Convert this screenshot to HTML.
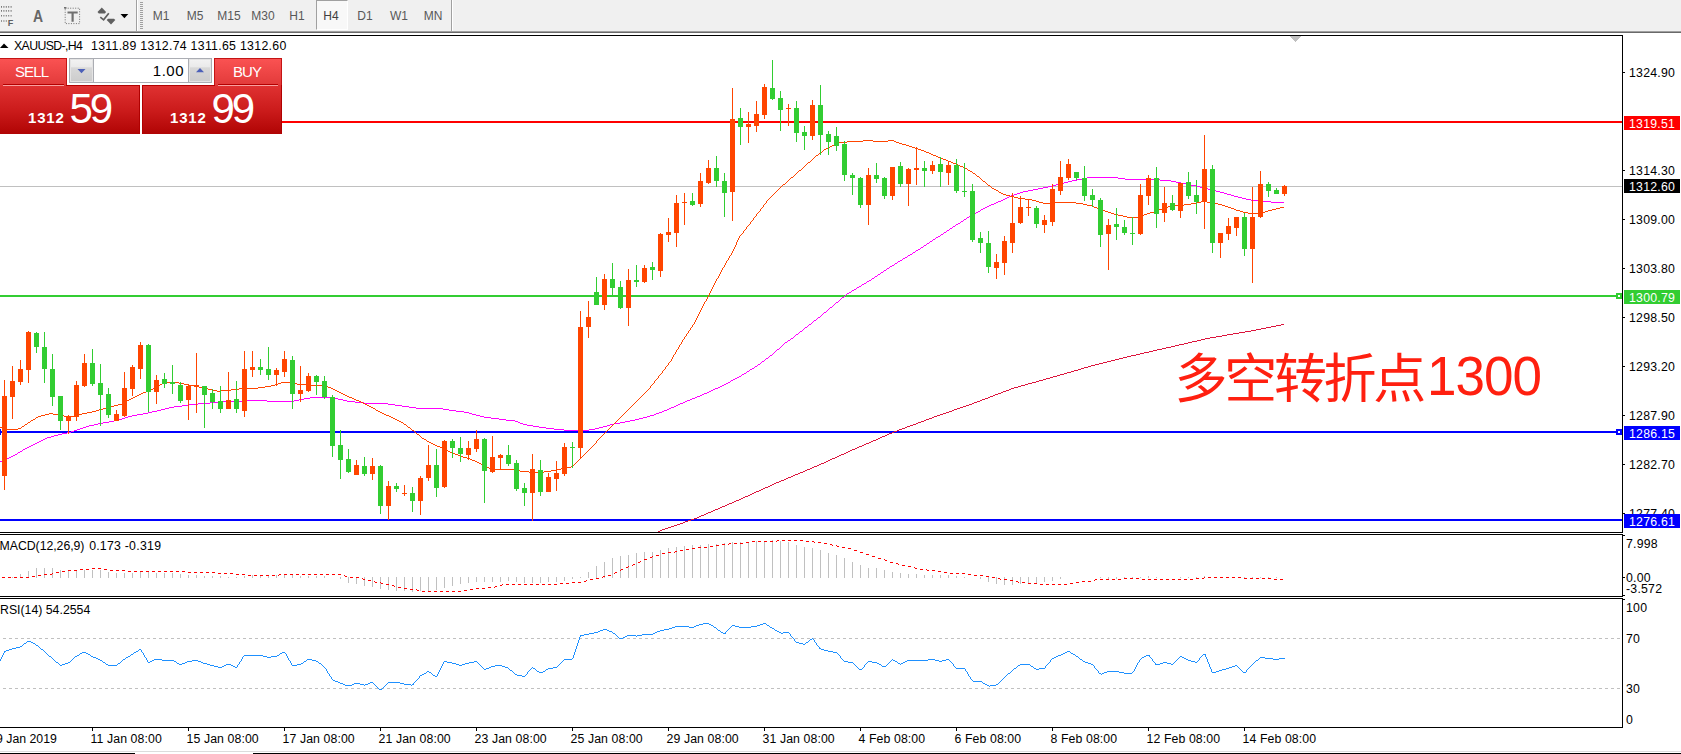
<!DOCTYPE html>
<html><head><meta charset="utf-8"><title>XAUUSD H4</title>
<style>
html,body{margin:0;padding:0;background:#fff;}
body{width:1681px;height:754px;overflow:hidden;position:relative;font-family:"Liberation Sans","Noto Sans CJK SC",sans-serif;}
.a{position:absolute;white-space:nowrap;}
.t{position:absolute;white-space:nowrap;font-size:12.3px;line-height:12px;color:#000;}
.tb{position:absolute;white-space:nowrap;font-size:12px;line-height:12px;color:#505050;text-align:center;width:34px;top:10px;}
.pl{letter-spacing:0.23px;position:absolute;left:1624px;width:56px;height:14px;color:#fff;font-size:12.3px;line-height:14px;white-space:nowrap;}
.pl span{position:absolute;left:5px;top:1.3px;}
.ax{position:absolute;left:1629px;letter-spacing:0.23px;font-size:12.3px;line-height:12px;white-space:nowrap;color:#000;}
</style></head><body>
<div class="a" style="left:0;top:0;width:1681px;height:31px;background:#F0F0F0;"></div>
<div class="a" style="left:0;top:31px;width:1681px;height:1px;background:#A0A0A0;"></div>
<div class="a" style="left:0;top:32px;width:1681px;height:1px;background:#696969;"></div>
<div class="a" style="left:136px;top:0;width:1px;height:31px;background:#A0A0A0"></div>
<div class="a" style="left:137px;top:0;width:1px;height:31px;background:#fff"></div>
<div class="a" style="left:140px;top:2px;width:3px;height:28px;background:repeating-linear-gradient(to bottom,#A0A0A0 0,#A0A0A0 1px,transparent 1px,transparent 2px)"></div>
<div class="a" style="left:451px;top:0;width:1px;height:31px;background:#A0A0A0"></div>
<div class="a" style="left:452px;top:0;width:1px;height:31px;background:#fff"></div>
<div class="a" style="left:316px;top:0px;width:32px;height:30px;background:#F8F8F8;border-left:1px solid #A0A0A0;border-top:1px solid #A0A0A0;border-right:1px solid #fff;border-bottom:1px solid #fff;box-sizing:border-box"></div>
<div class="tb" style="left:144px;color:#585858">M1</div>
<div class="tb" style="left:178px;color:#585858">M5</div>
<div class="tb" style="left:212px;color:#585858">M15</div>
<div class="tb" style="left:246px;color:#585858">M30</div>
<div class="tb" style="left:280px;color:#585858">H1</div>
<div class="tb" style="left:314px;color:#404040">H4</div>
<div class="tb" style="left:348px;color:#585858">D1</div>
<div class="tb" style="left:382px;color:#585858">W1</div>
<div class="tb" style="left:416px;color:#585858">MN</div>
<svg class="a" style="left:0;top:0" width="136" height="31" viewBox="0 0 136 31">
<g stroke="#787878" stroke-width="1.6" stroke-dasharray="1 1.4">
<line x1="1" y1="6.9" x2="12.5" y2="6.9"/><line x1="1" y1="10.9" x2="12.5" y2="10.9"/><line x1="1" y1="15.8" x2="12.5" y2="15.8"/><line x1="1" y1="21" x2="7" y2="21"/>
</g>
<g stroke="#707070" stroke-width="1" stroke-dasharray="1 1.5" fill="none">
<rect x="65.2" y="8.2" width="14.4" height="15.4"/>
</g>
<rect x="64" y="7" width="2.4" height="1.6" fill="#707070"/>
<text x="7.8" y="26.2" font-family="Liberation Sans,sans-serif" font-size="9" font-weight="bold" fill="#606060">F</text>
<text x="32.3" y="21.8" font-family="Liberation Sans,sans-serif" font-size="16.2" font-weight="bold" fill="#666" transform="translate(38 0) scale(0.86 1) translate(-38 0)">A</text>
<path d="M67.5 11.6 h10.2 v2 h-4 v8.2 h-2.2 v-8.2 h-4z" fill="#707070"/>
<g fill="#606060"><path d="M101.8 7.6 l4.3 4.4 l-1.3 1.4 h-6 l-1.3 -1.4z"/><path d="M111 24.4 l4.3 -4.4 l-1.3 -1.2 h-6 l-1.3 1.2z"/><path d="M100.3 17.2 l3.3 2.6 l5.2 -6.5" stroke="#606060" stroke-width="1.7" fill="none"/></g>
<path d="M120.5 14 h7.8 l-3.9 4.3z" fill="#000"/>
</svg>
<svg class="a" style="left:0;top:0" width="1681" height="754" viewBox="0 0 1681 754" shape-rendering="crispEdges">
<!-- frames -->
<rect x="0" y="35" width="1623" height="1" fill="#000"/>
<rect x="1622" y="35" width="1" height="498" fill="#000"/>
<rect x="0" y="532" width="1623" height="1" fill="#000"/>
<rect x="0" y="534" width="1623" height="1" fill="#000"/>
<rect x="1622" y="534" width="1" height="63" fill="#000"/>
<rect x="0" y="596" width="1623" height="1" fill="#000"/>
<rect x="0" y="598" width="1623" height="1" fill="#000"/>
<rect x="1622" y="598" width="1" height="130" fill="#000"/>
<rect x="0" y="727" width="1623" height="1" fill="#000"/>
<!-- h lines -->
<rect x="0" y="186" width="1622" height="1" fill="#C0C0C0"/>
<rect x="282" y="121" width="1340" height="2" fill="#FF0000"/>
<rect x="0" y="295" width="1622" height="2" fill="#32CD32"/>
<rect x="0" y="431" width="1622" height="2" fill="#0000FF"/>
<rect x="0" y="519" width="1622" height="2" fill="#0000FF"/>
<g><path d="M658 531h2v1h-2zM660 530h2v1h-2zM662 529h3v1h-3zM665 528h3v1h-3zM668 527h3v1h-3zM671 526h3v1h-3zM674 525h3v1h-3zM677 524h3v1h-3zM680 523h3v1h-3zM683 522h2v1h-2zM685 521h3v1h-3zM688 520h3v1h-3zM691 519h3v1h-3zM694 518h3v1h-3zM697 517h2v1h-2zM699 516h2v1h-2zM701 515h3v1h-3zM704 514h2v1h-2zM706 513h2v1h-2zM708 512h3v1h-3zM711 511h2v1h-2zM713 510h2v1h-2zM715 509h3v1h-3zM718 508h2v1h-2zM720 507h2v1h-2zM722 506h3v1h-3zM725 505h2v1h-2zM727 504h2v1h-2zM729 503h3v1h-3zM732 502h2v1h-2zM734 501h2v1h-2zM736 500h3v1h-3zM739 499h2v1h-2zM741 498h2v1h-2zM743 497h2v1h-2zM745 496h3v1h-3zM748 495h2v1h-2zM750 494h2v1h-2zM752 493h2v1h-2zM754 492h2v1h-2zM756 491h3v1h-3zM759 490h2v1h-2zM761 489h2v1h-2zM763 488h2v1h-2zM765 487h3v1h-3zM768 486h2v1h-2zM770 485h2v1h-2zM772 484h2v1h-2zM774 483h2v1h-2zM776 482h3v1h-3zM779 481h2v1h-2zM781 480h3v1h-3zM784 479h2v1h-2zM786 478h2v1h-2zM788 477h3v1h-3zM791 476h2v1h-2zM793 475h2v1h-2zM795 474h3v1h-3zM798 473h2v1h-2zM800 472h3v1h-3zM803 471h2v1h-2zM805 470h2v1h-2zM807 469h3v1h-3zM810 468h2v1h-2zM812 467h2v1h-2zM814 466h3v1h-3zM817 465h2v1h-2zM819 464h2v1h-2zM821 463h3v1h-3zM824 462h2v1h-2zM826 461h2v1h-2zM828 460h2v1h-2zM830 459h2v1h-2zM832 458h3v1h-3zM835 457h2v1h-2zM837 456h2v1h-2zM839 455h2v1h-2zM841 454h3v1h-3zM844 453h2v1h-2zM846 452h2v1h-2zM848 451h2v1h-2zM850 450h2v1h-2zM852 449h3v1h-3zM855 448h2v1h-2zM857 447h2v1h-2zM859 446h3v1h-3zM862 445h2v1h-2zM864 444h2v1h-2zM866 443h3v1h-3zM869 442h2v1h-2zM871 441h2v1h-2zM873 440h3v1h-3zM876 439h2v1h-2zM878 438h2v1h-2zM880 437h2v1h-2zM882 436h3v1h-3zM885 435h2v1h-2zM887 434h2v1h-2zM889 433h3v1h-3zM892 432h2v1h-2zM894 431h3v1h-3zM897 430h2v1h-2zM899 429h3v1h-3zM902 428h3v1h-3zM905 427h2v1h-2zM907 426h3v1h-3zM910 425h3v1h-3zM913 424h3v1h-3zM916 423h2v1h-2zM918 422h3v1h-3zM921 421h3v1h-3zM924 420h2v1h-2zM926 419h3v1h-3zM929 418h3v1h-3zM932 417h2v1h-2zM934 416h3v1h-3zM937 415h3v1h-3zM940 414h3v1h-3zM943 413h3v1h-3zM946 412h3v1h-3zM949 411h3v1h-3zM952 410h2v1h-2zM954 409h3v1h-3zM957 408h3v1h-3zM960 407h3v1h-3zM963 406h3v1h-3zM966 405h3v1h-3zM969 404h3v1h-3zM972 403h2v1h-2zM974 402h3v1h-3zM977 401h3v1h-3zM980 400h2v1h-2zM982 399h3v1h-3zM985 398h3v1h-3zM988 397h2v1h-2zM990 396h3v1h-3zM993 395h2v1h-2zM995 394h3v1h-3zM998 393h3v1h-3zM1001 392h2v1h-2zM1003 391h3v1h-3zM1006 390h3v1h-3zM1009 389h2v1h-2zM1011 388h3v1h-3zM1014 387h4v1h-4zM1018 386h3v1h-3zM1021 385h4v1h-4zM1025 384h3v1h-3zM1028 383h4v1h-4zM1032 382h4v1h-4zM1036 381h3v1h-3zM1039 380h4v1h-4zM1043 379h3v1h-3zM1046 378h4v1h-4zM1050 377h3v1h-3zM1053 376h4v1h-4zM1057 375h3v1h-3zM1060 374h4v1h-4zM1064 373h3v1h-3zM1067 372h4v1h-4zM1071 371h3v1h-3zM1074 370h4v1h-4zM1078 369h3v1h-3zM1081 368h3v1h-3zM1084 367h4v1h-4zM1088 366h3v1h-3zM1091 365h4v1h-4zM1095 364h4v1h-4zM1099 363h4v1h-4zM1103 362h4v1h-4zM1107 361h4v1h-4zM1111 360h4v1h-4zM1115 359h4v1h-4zM1119 358h4v1h-4zM1123 357h4v1h-4zM1127 356h4v1h-4zM1131 355h5v1h-5zM1136 354h4v1h-4zM1140 353h4v1h-4zM1144 352h5v1h-5zM1149 351h4v1h-4zM1153 350h4v1h-4zM1157 349h5v1h-5zM1162 348h4v1h-4zM1166 347h5v1h-5zM1171 346h4v1h-4zM1175 345h4v1h-4zM1179 344h5v1h-5zM1184 343h4v1h-4zM1188 342h4v1h-4zM1192 341h5v1h-5zM1197 340h4v1h-4zM1201 339h4v1h-4zM1205 338h5v1h-5zM1210 337h6v1h-6zM1216 336h6v1h-6zM1222 335h5v1h-5zM1227 334h6v1h-6zM1233 333h6v1h-6zM1239 332h6v1h-6zM1245 331h6v1h-6zM1251 330h5v1h-5zM1256 329h5v1h-5zM1261 328h5v1h-5zM1266 327h5v1h-5zM1271 326h5v1h-5zM1276 325h5v1h-5zM1281 324h3v1h-3z" fill="#DC143C"/><path d="M0 461h2v1h-2zM2 460h2v1h-2zM4 459h2v1h-2zM6 458h3v1h-3zM9 457h2v1h-2zM11 456h2v1h-2zM13 455h2v1h-2zM15 454h2v1h-2zM17 453h1v1h-1zM18 452h2v1h-2zM20 451h2v1h-2zM22 450h1v1h-1zM23 449h2v1h-2zM25 448h2v1h-2zM27 447h2v1h-2zM29 446h2v1h-2zM31 445h2v1h-2zM33 444h2v1h-2zM35 443h2v1h-2zM37 442h2v1h-2zM39 441h2v1h-2zM41 440h2v1h-2zM43 439h2v1h-2zM45 438h2v1h-2zM47 437h4v1h-4zM51 436h3v1h-3zM54 435h4v1h-4zM58 434h4v1h-4zM62 433h5v1h-5zM67 432h4v1h-4zM71 431h3v1h-3zM74 430h3v1h-3zM77 429h3v1h-3zM80 428h3v1h-3zM83 427h3v1h-3zM86 426h3v1h-3zM89 425h5v1h-5zM94 424h4v1h-4zM98 423h5v1h-5zM103 422h6v1h-6zM109 421h5v1h-5zM114 420h4v1h-4zM118 419h4v1h-4zM122 418h3v1h-3zM125 417h3v1h-3zM128 416h4v1h-4zM132 415h5v1h-5zM137 414h6v1h-6zM143 413h5v1h-5zM148 412h4v1h-4zM152 411h5v1h-5zM157 410h4v1h-4zM161 409h4v1h-4zM165 408h4v1h-4zM169 407h5v1h-5zM174 406h8v1h-8zM182 405h7v1h-7zM189 404h9v1h-9zM198 403h12v1h-12zM210 402h8v1h-8zM218 401h27v1h-27zM245 400h22v1h-22zM267 401h27v1h-27zM294 400h5v1h-5zM299 399h5v1h-5zM304 398h6v1h-6zM310 397h21v1h-21zM331 398h7v1h-7zM338 399h5v1h-5zM343 400h4v1h-4zM347 401h8v1h-8zM355 402h9v1h-9zM364 403h24v1h-24zM388 404h7v1h-7zM395 405h7v1h-7zM402 406h7v1h-7zM409 407h7v1h-7zM416 408h27v1h-27zM443 409h6v1h-6zM449 410h7v1h-7zM456 411h8v1h-8zM464 412h5v1h-5zM469 413h3v1h-3zM472 414h4v1h-4zM476 415h4v1h-4zM480 416h4v1h-4zM484 417h7v1h-7zM491 418h8v1h-8zM499 419h7v1h-7zM506 420h9v1h-9zM515 421h3v1h-3zM518 422h2v1h-2zM520 423h3v1h-3zM523 424h4v1h-4zM527 425h6v1h-6zM533 426h6v1h-6zM539 427h7v1h-7zM546 428h8v1h-8zM554 429h10v1h-10zM564 430h25v1h-25zM589 429h6v1h-6zM595 428h4v1h-4zM599 427h4v1h-4zM603 426h4v1h-4zM607 425h3v1h-3zM610 424h4v1h-4zM614 423h6v1h-6zM620 422h5v1h-5zM625 421h5v1h-5zM630 420h5v1h-5zM635 419h4v1h-4zM639 418h4v1h-4zM643 417h4v1h-4zM647 416h3v1h-3zM650 415h4v1h-4zM654 414h2v1h-2zM656 413h3v1h-3zM659 412h3v1h-3zM662 411h2v1h-2zM664 410h3v1h-3zM667 409h2v1h-2zM669 408h2v1h-2zM671 407h3v1h-3zM674 406h2v1h-2zM676 405h2v1h-2zM678 404h2v1h-2zM680 403h3v1h-3zM683 402h2v1h-2zM685 401h2v1h-2zM687 400h3v1h-3zM690 399h2v1h-2zM692 398h3v1h-3zM695 397h2v1h-2zM697 396h3v1h-3zM700 395h2v1h-2zM702 394h2v1h-2zM704 393h3v1h-3zM707 392h2v1h-2zM709 391h2v1h-2zM711 390h2v1h-2zM713 389h2v1h-2zM715 388h3v1h-3zM718 387h2v1h-2zM720 386h2v1h-2zM722 385h2v1h-2zM724 384h2v1h-2zM726 383h2v1h-2zM728 382h2v1h-2zM730 381h1v1h-1zM731 380h2v1h-2zM733 379h2v1h-2zM735 378h2v1h-2zM737 377h2v1h-2zM739 376h2v1h-2zM741 375h1v1h-1zM742 374h2v1h-2zM744 373h2v1h-2zM746 372h1v1h-1zM747 371h2v1h-2zM749 370h1v1h-1zM750 369h2v1h-2zM752 368h2v1h-2zM754 367h1v1h-1zM755 366h2v1h-2zM757 365h1v1h-1zM758 364h2v1h-2zM760 363h1v1h-1zM761 362h1v1h-1zM762 361h2v1h-2zM764 360h1v1h-1zM765 359h1v1h-1zM766 358h2v1h-2zM768 357h1v1h-1zM769 356h1v1h-1zM770 355h2v1h-2zM772 354h1v1h-1zM773 353h1v1h-1zM774 352h1v1h-1zM775 351h1v1h-1zM776 350h1v1h-1zM777 349h2v1h-2zM779 348h1v1h-1zM780 347h1v1h-1zM781 346h1v1h-1zM782 345h1v1h-1zM783 344h1v1h-1zM784 343h1v1h-1zM785 342h2v1h-2zM787 341h1v1h-1zM788 340h2v1h-2zM790 339h1v1h-1zM791 338h2v1h-2zM793 337h1v1h-1zM794 336h1v1h-1zM795 335h1v1h-1zM796 334h2v1h-2zM798 333h1v1h-1zM799 332h1v1h-1zM800 331h2v1h-2zM802 330h1v1h-1zM803 329h1v1h-1zM804 328h1v1h-1zM805 327h2v1h-2zM807 326h1v1h-1zM808 325h1v1h-1zM809 324h2v1h-2zM811 323h1v1h-1zM812 322h1v1h-1zM813 321h1v1h-1zM814 320h2v1h-2zM816 319h1v1h-1zM817 318h1v1h-1zM818 317h2v1h-2zM820 316h1v1h-1zM821 315h1v1h-1zM822 314h1v1h-1zM823 313h1v1h-1zM824 312h2v1h-2zM826 311h1v1h-1zM827 310h1v1h-1zM828 309h1v1h-1zM829 308h1v1h-1zM830 307h2v1h-2zM832 306h1v1h-1zM833 305h1v1h-1zM834 304h1v1h-1zM835 303h1v1h-1zM836 302h2v1h-2zM838 301h1v1h-1zM839 300h1v1h-1zM840 299h1v1h-1zM841 298h1v1h-1zM842 297h2v1h-2zM844 296h1v1h-1zM845 295h1v1h-1zM846 294h1v1h-1zM847 293h2v1h-2zM849 292h2v1h-2zM851 291h1v1h-1zM852 290h2v1h-2zM854 289h2v1h-2zM856 288h1v1h-1zM857 287h2v1h-2zM859 286h2v1h-2zM861 285h1v1h-1zM862 284h2v1h-2zM864 283h2v1h-2zM866 282h1v1h-1zM867 281h2v1h-2zM869 280h2v1h-2zM871 279h1v1h-1zM872 278h2v1h-2zM874 277h1v1h-1zM875 276h2v1h-2zM877 275h1v1h-1zM878 274h2v1h-2zM880 273h1v1h-1zM881 272h2v1h-2zM883 271h1v1h-1zM884 270h2v1h-2zM886 269h1v1h-1zM887 268h2v1h-2zM889 267h1v1h-1zM890 266h2v1h-2zM892 265h2v1h-2zM894 264h1v1h-1zM895 263h2v1h-2zM897 262h1v1h-1zM898 261h2v1h-2zM900 260h2v1h-2zM902 259h1v1h-1zM903 258h2v1h-2zM905 257h2v1h-2zM907 256h1v1h-1zM908 255h2v1h-2zM910 254h2v1h-2zM912 253h1v1h-1zM913 252h2v1h-2zM915 251h1v1h-1zM916 250h2v1h-2zM918 249h2v1h-2zM920 248h1v1h-1zM921 247h2v1h-2zM923 246h1v1h-1zM924 245h2v1h-2zM926 244h1v1h-1zM927 243h2v1h-2zM929 242h1v1h-1zM930 241h2v1h-2zM932 240h1v1h-1zM933 239h2v1h-2zM935 238h1v1h-1zM936 237h2v1h-2zM938 236h2v1h-2zM940 235h1v1h-1zM941 234h2v1h-2zM943 233h1v1h-1zM944 232h2v1h-2zM946 231h1v1h-1zM947 230h2v1h-2zM949 229h1v1h-1zM950 228h2v1h-2zM952 227h1v1h-1zM953 226h2v1h-2zM955 225h1v1h-1zM956 224h2v1h-2zM958 223h2v1h-2zM960 222h1v1h-1zM961 221h2v1h-2zM963 220h1v1h-1zM964 219h2v1h-2zM966 218h1v1h-1zM967 217h2v1h-2zM969 216h2v1h-2zM971 215h1v1h-1zM972 214h2v1h-2zM974 213h2v1h-2zM976 212h2v1h-2zM978 211h2v1h-2zM980 210h1v1h-1zM981 209h2v1h-2zM983 208h2v1h-2zM985 207h2v1h-2zM987 206h2v1h-2zM989 205h2v1h-2zM991 204h3v1h-3zM994 203h2v1h-2zM996 202h2v1h-2zM998 201h3v1h-3zM1001 200h2v1h-2zM1003 199h2v1h-2zM1005 198h2v1h-2zM1007 197h2v1h-2zM1009 196h2v1h-2zM1011 195h3v1h-3zM1014 194h3v1h-3zM1017 193h3v1h-3zM1020 192h3v1h-3zM1023 191h5v1h-5zM1028 190h5v1h-5zM1033 189h5v1h-5zM1038 188h5v1h-5zM1043 187h5v1h-5zM1048 186h4v1h-4zM1052 185h4v1h-4zM1056 184h4v1h-4zM1060 183h4v1h-4zM1064 182h4v1h-4zM1068 181h4v1h-4zM1072 180h5v1h-5zM1077 179h5v1h-5zM1082 178h5v1h-5zM1087 177h31v1h-31zM1118 178h7v1h-7zM1125 179h35v1h-35zM1160 180h11v1h-11zM1171 181h5v1h-5zM1176 182h5v1h-5zM1181 183h5v1h-5zM1186 184h5v1h-5zM1191 185h5v1h-5zM1196 186h4v1h-4zM1200 187h4v1h-4zM1204 188h4v1h-4zM1208 189h4v1h-4zM1212 190h4v1h-4zM1216 191h4v1h-4zM1220 192h4v1h-4zM1224 193h3v1h-3zM1227 194h4v1h-4zM1231 195h3v1h-3zM1234 196h4v1h-4zM1238 197h4v1h-4zM1242 198h4v1h-4zM1246 199h5v1h-5zM1251 200h11v1h-11zM1262 201h9v1h-9zM1271 202h13v1h-13z" fill="#FF00FF"/><path d="M0 427h2v1h-2zM2 428h4v1h-4zM6 429h12v1h-12zM18 428h3v1h-3zM21 427h1v1h-1zM22 426h2v1h-2zM24 425h1v1h-1zM25 424h2v1h-2zM27 423h1v1h-1zM28 422h2v1h-2zM30 421h1v1h-1zM31 420h2v1h-2zM33 419h2v1h-2zM35 418h1v1h-1zM36 417h2v1h-2zM38 416h3v1h-3zM41 415h4v1h-4zM45 414h4v1h-4zM49 413h4v1h-4zM53 414h5v1h-5zM58 415h6v1h-6zM64 416h10v1h-10zM74 415h4v1h-4zM78 414h4v1h-4zM82 413h5v1h-5zM87 412h5v1h-5zM92 411h4v1h-4zM96 410h3v1h-3zM99 409h4v1h-4zM103 408h3v1h-3zM106 407h4v1h-4zM110 406h4v1h-4zM114 405h4v1h-4zM118 404h4v1h-4zM122 403h2v1h-2zM124 402h2v1h-2zM126 401h1v1h-1zM127 400h2v1h-2zM129 399h2v1h-2zM131 398h2v1h-2zM133 397h2v1h-2zM135 396h2v1h-2zM137 395h2v1h-2zM139 394h2v1h-2zM141 393h2v1h-2zM143 392h3v1h-3zM146 391h2v1h-2zM148 390h2v1h-2zM150 389h3v1h-3zM153 388h2v1h-2zM155 387h2v1h-2zM157 386h2v1h-2zM159 385h1v1h-1zM160 384h2v1h-2zM162 383h2v1h-2zM164 382h15v1h-15zM179 383h5v1h-5zM184 384h5v1h-5zM189 385h5v1h-5zM194 386h5v1h-5zM199 387h4v1h-4zM203 388h5v1h-5zM208 389h5v1h-5zM213 390h4v1h-4zM217 391h4v1h-4zM221 390h10v1h-10zM231 389h8v1h-8zM239 388h19v1h-19zM258 387h7v1h-7zM265 386h6v1h-6zM271 385h4v1h-4zM275 384h3v1h-3zM278 383h3v1h-3zM281 382h12v1h-12zM293 383h4v1h-4zM297 384h9v1h-9zM306 385h20v1h-20zM326 386h2v1h-2zM328 387h3v1h-3zM331 388h2v1h-2zM333 389h2v1h-2zM335 390h2v1h-2zM337 391h2v1h-2zM339 392h2v1h-2zM341 393h2v1h-2zM343 394h2v1h-2zM345 395h2v1h-2zM347 396h2v1h-2zM349 397h3v1h-3zM352 398h2v1h-2zM354 399h2v1h-2zM356 400h3v1h-3zM359 401h2v1h-2zM361 402h2v1h-2zM363 403h2v1h-2zM365 404h2v1h-2zM367 405h2v1h-2zM369 406h2v1h-2zM371 407h2v1h-2zM373 408h2v1h-2zM375 409h1v1h-1zM376 410h2v1h-2zM378 411h2v1h-2zM380 412h2v1h-2zM382 413h2v1h-2zM384 414h2v1h-2zM386 415h3v1h-3zM389 416h2v1h-2zM391 417h2v1h-2zM393 418h2v1h-2zM395 419h2v1h-2zM397 420h2v1h-2zM399 421h2v1h-2zM401 422h2v1h-2zM403 423h1v1h-1zM404 424h2v1h-2zM406 425h1v1h-1zM407 426h1v1h-1zM408 427h2v1h-2zM410 428h1v1h-1zM411 429h1v1h-1zM412 430h2v1h-2zM414 431h1v1h-1zM415 432h1v1h-1zM416 433h1v1h-1zM417 434h2v1h-2zM419 435h1v1h-1zM420 436h1v1h-1zM421 437h1v1h-1zM422 438h2v1h-2zM424 439h2v1h-2zM426 440h1v1h-1zM427 441h2v1h-2zM429 442h2v1h-2zM431 443h2v1h-2zM433 444h2v1h-2zM435 445h2v1h-2zM437 446h3v1h-3zM440 447h2v1h-2zM442 448h2v1h-2zM444 449h2v1h-2zM446 450h2v1h-2zM448 451h2v1h-2zM450 452h3v1h-3zM453 453h2v1h-2zM455 454h3v1h-3zM458 455h2v1h-2zM460 456h3v1h-3zM463 457h4v1h-4zM467 458h3v1h-3zM470 459h2v1h-2zM472 460h3v1h-3zM475 461h2v1h-2zM477 462h2v1h-2zM479 463h2v1h-2zM481 464h2v1h-2zM483 465h1v1h-1zM484 466h2v1h-2zM486 467h3v1h-3zM489 468h6v1h-6zM495 469h21v1h-21zM516 470h4v1h-4zM520 471h9v1h-9zM529 472h15v1h-15zM544 471h7v1h-7zM551 470h5v1h-5zM556 469h5v1h-5zM561 468h4v1h-4zM565 467h6v1h-6zM571 466h2v1h-2zM573 465h1v1h-1zM574 464h1v1h-1zM575 463h1v1h-1zM576 462h1v1h-1zM577 461h1v1h-1zM578 460h1v1h-1zM579 459h1v1h-1zM580 458h1v1h-1zM581 457h1v1h-1zM582 456h1v1h-1zM583 455h1v1h-1zM584 454h1v1h-1zM585 453h1v1h-1zM586 452h1v1h-1zM587 451h1v1h-1zM588 450h1v1h-1zM589 449h1v1h-1zM590 448h1v1h-1zM591 447h1v1h-1zM592 446h1v1h-1zM593 445h1v1h-1zM594 444h1v1h-1zM595 443h1v1h-1zM596 441h1v2h-1zM597 440h1v1h-1zM598 439h1v1h-1zM599 438h1v1h-1zM600 437h1v1h-1zM601 436h1v1h-1zM602 435h1v1h-1zM603 434h1v1h-1zM604 433h1v1h-1zM605 432h1v1h-1zM606 431h1v1h-1zM607 430h1v1h-1zM608 429h1v1h-1zM609 428h1v1h-1zM610 427h1v1h-1zM611 426h1v1h-1zM612 425h1v1h-1zM613 424h1v1h-1zM614 423h1v1h-1zM615 422h1v1h-1zM616 421h1v1h-1zM617 420h1v1h-1zM618 419h1v1h-1zM619 418h1v1h-1zM620 417h1v1h-1zM621 416h1v1h-1zM622 415h1v1h-1zM623 414h1v1h-1zM624 413h1v1h-1zM625 412h1v1h-1zM626 411h1v1h-1zM627 410h1v1h-1zM628 409h1v1h-1zM629 408h1v1h-1zM630 407h1v1h-1zM631 406h1v1h-1zM632 405h1v1h-1zM633 404h1v1h-1zM634 403h1v1h-1zM635 402h1v1h-1zM636 401h1v1h-1zM637 400h1v1h-1zM638 399h1v1h-1zM639 398h1v1h-1zM640 397h1v1h-1zM641 396h1v1h-1zM642 395h1v1h-1zM643 394h1v1h-1zM644 393h1v1h-1zM645 392h1v1h-1zM646 391h1v1h-1zM647 390h1v1h-1zM648 389h1v1h-1zM649 388h1v1h-1zM650 386h1v2h-1zM651 385h1v1h-1zM652 384h1v1h-1zM653 383h1v1h-1zM654 381h1v2h-1zM655 380h1v1h-1zM656 379h1v1h-1zM657 378h1v1h-1zM658 376h1v2h-1zM659 375h1v1h-1zM660 374h1v1h-1zM661 373h1v1h-1zM662 371h1v2h-1zM663 370h1v1h-1zM664 369h1v1h-1zM665 367h1v2h-1zM666 366h1v1h-1zM667 365h1v1h-1zM668 363h1v2h-1zM669 362h1v1h-1zM670 361h1v1h-1zM671 359h1v2h-1zM672 357h1v2h-1zM673 355h1v2h-1zM674 354h1v1h-1zM675 352h1v2h-1zM676 350h1v2h-1zM677 349h1v1h-1zM678 347h1v2h-1zM679 345h1v2h-1zM680 344h1v1h-1zM681 342h1v2h-1zM682 340h1v2h-1zM683 339h1v1h-1zM684 337h1v2h-1zM685 336h1v1h-1zM686 334h1v2h-1zM687 333h1v1h-1zM688 331h1v2h-1zM689 330h1v1h-1zM690 328h1v2h-1zM691 327h1v1h-1zM692 325h1v2h-1zM693 324h1v1h-1zM694 322h1v2h-1zM695 320h1v2h-1zM696 318h1v2h-1zM697 316h1v2h-1zM698 314h1v2h-1zM699 312h1v2h-1zM700 310h1v2h-1zM701 308h1v2h-1zM702 306h1v2h-1zM703 304h1v2h-1zM704 302h1v2h-1zM705 301h1v1h-1zM706 299h1v2h-1zM707 297h1v2h-1zM708 295h1v2h-1zM709 293h1v2h-1zM710 291h1v2h-1zM711 289h1v2h-1zM712 287h1v2h-1zM713 285h1v2h-1zM714 283h1v2h-1zM715 281h1v2h-1zM716 279h1v2h-1zM717 278h1v1h-1zM718 276h1v2h-1zM719 274h1v2h-1zM720 272h1v2h-1zM721 270h1v2h-1zM722 268h1v2h-1zM723 267h1v1h-1zM724 265h1v2h-1zM725 263h1v2h-1zM726 261h1v2h-1zM727 260h1v1h-1zM728 258h1v2h-1zM729 256h1v2h-1zM730 255h1v1h-1zM731 253h1v2h-1zM732 251h1v2h-1zM733 249h1v2h-1zM734 247h1v2h-1zM735 245h1v2h-1zM736 242h1v3h-1zM737 240h1v2h-1zM738 238h1v2h-1zM739 236h1v2h-1zM740 235h1v1h-1zM741 234h1v1h-1zM742 233h1v1h-1zM743 231h1v2h-1zM744 230h1v1h-1zM745 229h1v1h-1zM746 227h1v2h-1zM747 226h1v1h-1zM748 225h1v1h-1zM749 224h1v1h-1zM750 222h1v2h-1zM751 221h1v1h-1zM752 220h1v1h-1zM753 218h1v2h-1zM754 217h1v1h-1zM755 216h1v1h-1zM756 214h1v2h-1zM757 213h1v1h-1zM758 212h1v1h-1zM759 211h1v1h-1zM760 209h1v2h-1zM761 208h1v1h-1zM762 207h1v1h-1zM763 205h1v2h-1zM764 204h1v1h-1zM765 203h1v1h-1zM766 201h1v2h-1zM767 200h1v1h-1zM768 199h1v1h-1zM769 198h1v1h-1zM770 197h1v1h-1zM771 196h1v1h-1zM772 195h1v1h-1zM773 194h1v1h-1zM774 193h1v1h-1zM775 192h1v1h-1zM776 191h1v1h-1zM777 190h1v1h-1zM778 189h1v1h-1zM779 188h1v1h-1zM780 187h1v1h-1zM781 186h1v1h-1zM782 185h1v1h-1zM783 184h2v1h-2zM785 183h1v1h-1zM786 182h1v1h-1zM787 181h1v1h-1zM788 180h1v1h-1zM789 179h1v1h-1zM790 178h1v1h-1zM791 177h2v1h-2zM793 176h1v1h-1zM794 175h1v1h-1zM795 174h1v1h-1zM796 173h1v1h-1zM797 172h1v1h-1zM798 171h1v1h-1zM799 170h2v1h-2zM801 169h1v1h-1zM802 168h1v1h-1zM803 167h1v1h-1zM804 166h1v1h-1zM805 165h1v1h-1zM806 164h1v1h-1zM807 163h1v1h-1zM808 162h2v1h-2zM810 161h1v1h-1zM811 160h1v1h-1zM812 159h1v1h-1zM813 158h1v1h-1zM814 157h1v1h-1zM815 156h1v1h-1zM816 155h2v1h-2zM818 154h1v1h-1zM819 153h1v1h-1zM820 152h2v1h-2zM822 151h1v1h-1zM823 150h1v1h-1zM824 149h2v1h-2zM826 148h2v1h-2zM828 147h2v1h-2zM830 146h2v1h-2zM832 145h2v1h-2zM834 144h2v1h-2zM836 143h2v1h-2zM838 142h9v1h-9zM847 141h16v1h-16zM863 140h10v1h-10zM873 141h15v1h-15zM888 140h6v1h-6zM894 141h2v1h-2zM896 142h3v1h-3zM899 143h3v1h-3zM902 144h4v1h-4zM906 145h3v1h-3zM909 146h3v1h-3zM912 147h3v1h-3zM915 148h3v1h-3zM918 149h3v1h-3zM921 150h3v1h-3zM924 151h2v1h-2zM926 152h3v1h-3zM929 153h2v1h-2zM931 154h2v1h-2zM933 155h3v1h-3zM936 156h2v1h-2zM938 157h3v1h-3zM941 158h2v1h-2zM943 159h3v1h-3zM946 160h2v1h-2zM948 161h3v1h-3zM951 162h2v1h-2zM953 163h3v1h-3zM956 164h2v1h-2zM958 165h2v1h-2zM960 166h3v1h-3zM963 167h2v1h-2zM965 168h2v1h-2zM967 169h1v1h-1zM968 170h2v1h-2zM970 171h2v1h-2zM972 172h1v1h-1zM973 173h2v1h-2zM975 174h1v1h-1zM976 175h1v1h-1zM977 176h2v1h-2zM979 177h1v1h-1zM980 178h1v1h-1zM981 179h1v1h-1zM982 180h1v1h-1zM983 181h2v1h-2zM985 182h1v1h-1zM986 183h1v1h-1zM987 184h1v1h-1zM988 185h2v1h-2zM990 186h1v1h-1zM991 187h1v1h-1zM992 188h2v1h-2zM994 189h2v1h-2zM996 190h2v1h-2zM998 191h1v1h-1zM999 192h2v1h-2zM1001 193h2v1h-2zM1003 194h3v1h-3zM1006 195h4v1h-4zM1010 196h4v1h-4zM1014 197h4v1h-4zM1018 198h7v1h-7zM1025 199h7v1h-7zM1032 200h4v1h-4zM1036 201h3v1h-3zM1039 202h4v1h-4zM1043 203h12v1h-12zM1055 202h21v1h-21zM1076 203h7v1h-7zM1083 204h4v1h-4zM1087 205h5v1h-5zM1092 206h2v1h-2zM1094 207h3v1h-3zM1097 208h2v1h-2zM1099 209h3v1h-3zM1102 210h3v1h-3zM1105 211h3v1h-3zM1108 212h3v1h-3zM1111 213h3v1h-3zM1114 214h4v1h-4zM1118 215h5v1h-5zM1123 216h4v1h-4zM1127 217h5v1h-5zM1132 218h1v1h-1zM1133 217h6v1h-6zM1139 216h2v1h-2zM1141 215h3v1h-3zM1144 214h3v1h-3zM1147 213h3v1h-3zM1150 212h4v1h-4zM1154 211h3v1h-3zM1157 210h2v1h-2zM1159 209h3v1h-3zM1162 208h3v1h-3zM1165 207h3v1h-3zM1168 206h4v1h-4zM1172 205h12v1h-12zM1184 204h7v1h-7zM1191 203h6v1h-6zM1197 202h4v1h-4zM1201 201h6v1h-6zM1207 202h6v1h-6zM1213 203h5v1h-5zM1218 204h4v1h-4zM1222 205h3v1h-3zM1225 206h3v1h-3zM1228 207h3v1h-3zM1231 208h3v1h-3zM1234 209h2v1h-2zM1236 210h4v1h-4zM1240 211h3v1h-3zM1243 212h5v1h-5zM1248 213h13v1h-13zM1261 212h4v1h-4zM1265 211h3v1h-3zM1268 210h4v1h-4zM1272 209h4v1h-4zM1276 208h4v1h-4zM1280 207h4v1h-4z" fill="#FF4500"/></g>
<g><rect x="4" y="380" width="1" height="110" fill="#FF4500"/><rect x="2" y="396" width="5" height="80" fill="#FF4500"/><rect x="12" y="366" width="1" height="53" fill="#FF4500"/><rect x="10" y="381" width="5" height="16" fill="#FF4500"/><rect x="20" y="360" width="1" height="25" fill="#FF4500"/><rect x="18" y="369" width="5" height="13" fill="#FF4500"/><rect x="28" y="331" width="1" height="52" fill="#FF4500"/><rect x="26" y="332" width="5" height="38" fill="#FF4500"/><rect x="36" y="332" width="1" height="21" fill="#32CD32"/><rect x="34" y="333" width="5" height="14" fill="#32CD32"/><rect x="44" y="332" width="1" height="51" fill="#32CD32"/><rect x="42" y="347" width="5" height="22" fill="#32CD32"/><rect x="52" y="354" width="1" height="52" fill="#32CD32"/><rect x="50" y="369" width="5" height="28" fill="#32CD32"/><rect x="60" y="396" width="1" height="34" fill="#32CD32"/><rect x="58" y="396" width="5" height="25" fill="#32CD32"/><rect x="68" y="415" width="1" height="19" fill="#FF4500"/><rect x="66" y="416" width="5" height="5" fill="#FF4500"/><rect x="76" y="381" width="1" height="40" fill="#FF4500"/><rect x="74" y="385" width="5" height="32" fill="#FF4500"/><rect x="84" y="354" width="1" height="33" fill="#FF4500"/><rect x="82" y="363" width="5" height="23" fill="#FF4500"/><rect x="92" y="349" width="1" height="37" fill="#32CD32"/><rect x="90" y="363" width="5" height="21" fill="#32CD32"/><rect x="100" y="364" width="1" height="62" fill="#32CD32"/><rect x="98" y="383" width="5" height="12" fill="#32CD32"/><rect x="108" y="388" width="1" height="30" fill="#32CD32"/><rect x="106" y="394" width="5" height="21" fill="#32CD32"/><rect x="116" y="410" width="1" height="11" fill="#FF4500"/><rect x="114" y="414" width="5" height="7" fill="#FF4500"/><rect x="124" y="372" width="1" height="45" fill="#FF4500"/><rect x="122" y="388" width="5" height="28" fill="#FF4500"/><rect x="132" y="365" width="1" height="31" fill="#FF4500"/><rect x="130" y="367" width="5" height="22" fill="#FF4500"/><rect x="140" y="342" width="1" height="37" fill="#FF4500"/><rect x="138" y="345" width="5" height="24" fill="#FF4500"/><rect x="148" y="344" width="1" height="68" fill="#32CD32"/><rect x="146" y="345" width="5" height="47" fill="#32CD32"/><rect x="156" y="375" width="1" height="29" fill="#FF4500"/><rect x="154" y="380" width="5" height="12" fill="#FF4500"/><rect x="164" y="373" width="1" height="15" fill="#32CD32"/><rect x="162" y="379" width="5" height="5" fill="#32CD32"/><rect x="172" y="365" width="1" height="29" fill="#32CD32"/><rect x="170" y="382" width="5" height="2" fill="#32CD32"/><rect x="180" y="382" width="1" height="21" fill="#32CD32"/><rect x="178" y="385" width="5" height="16" fill="#32CD32"/><rect x="188" y="385" width="1" height="35" fill="#FF4500"/><rect x="186" y="386" width="5" height="14" fill="#FF4500"/><rect x="196" y="353" width="1" height="60" fill="#FF4500"/><rect x="194" y="385" width="5" height="2" fill="#FF4500"/><rect x="204" y="386" width="1" height="42" fill="#32CD32"/><rect x="202" y="386" width="5" height="9" fill="#32CD32"/><rect x="212" y="389" width="1" height="20" fill="#32CD32"/><rect x="210" y="393" width="5" height="9" fill="#32CD32"/><rect x="220" y="386" width="1" height="27" fill="#32CD32"/><rect x="218" y="401" width="5" height="8" fill="#32CD32"/><rect x="228" y="372" width="1" height="37" fill="#FF4500"/><rect x="226" y="400" width="5" height="9" fill="#FF4500"/><rect x="236" y="381" width="1" height="32" fill="#32CD32"/><rect x="234" y="399" width="5" height="10" fill="#32CD32"/><rect x="244" y="351" width="1" height="66" fill="#FF4500"/><rect x="242" y="369" width="5" height="42" fill="#FF4500"/><rect x="252" y="351" width="1" height="26" fill="#FF4500"/><rect x="250" y="367" width="5" height="3" fill="#FF4500"/><rect x="260" y="359" width="1" height="16" fill="#32CD32"/><rect x="258" y="367" width="5" height="3" fill="#32CD32"/><rect x="268" y="347" width="1" height="33" fill="#32CD32"/><rect x="266" y="369" width="5" height="6" fill="#32CD32"/><rect x="276" y="368" width="1" height="18" fill="#FF4500"/><rect x="274" y="370" width="5" height="5" fill="#FF4500"/><rect x="284" y="351" width="1" height="26" fill="#FF4500"/><rect x="282" y="359" width="5" height="13" fill="#FF4500"/><rect x="292" y="356" width="1" height="53" fill="#32CD32"/><rect x="290" y="360" width="5" height="34" fill="#32CD32"/><rect x="300" y="366" width="1" height="36" fill="#FF4500"/><rect x="298" y="390" width="5" height="4" fill="#FF4500"/><rect x="308" y="373" width="1" height="19" fill="#FF4500"/><rect x="306" y="376" width="5" height="15" fill="#FF4500"/><rect x="316" y="375" width="1" height="20" fill="#32CD32"/><rect x="314" y="376" width="5" height="6" fill="#32CD32"/><rect x="324" y="376" width="1" height="23" fill="#32CD32"/><rect x="322" y="381" width="5" height="16" fill="#32CD32"/><rect x="332" y="395" width="1" height="62" fill="#32CD32"/><rect x="330" y="397" width="5" height="49" fill="#32CD32"/><rect x="340" y="430" width="1" height="49" fill="#32CD32"/><rect x="338" y="445" width="5" height="15" fill="#32CD32"/><rect x="348" y="449" width="1" height="24" fill="#32CD32"/><rect x="346" y="459" width="5" height="13" fill="#32CD32"/><rect x="356" y="460" width="1" height="15" fill="#FF4500"/><rect x="354" y="465" width="5" height="10" fill="#FF4500"/><rect x="364" y="457" width="1" height="19" fill="#32CD32"/><rect x="362" y="466" width="5" height="8" fill="#32CD32"/><rect x="372" y="458" width="1" height="22" fill="#FF4500"/><rect x="370" y="466" width="5" height="8" fill="#FF4500"/><rect x="380" y="465" width="1" height="49" fill="#32CD32"/><rect x="378" y="466" width="5" height="40" fill="#32CD32"/><rect x="388" y="481" width="1" height="39" fill="#FF4500"/><rect x="386" y="486" width="5" height="20" fill="#FF4500"/><rect x="396" y="483" width="1" height="9" fill="#32CD32"/><rect x="394" y="486" width="5" height="3" fill="#32CD32"/><rect x="404" y="485" width="1" height="11" fill="#FF4500"/><rect x="402" y="493" width="5" height="1" fill="#FF4500"/><rect x="412" y="487" width="1" height="25" fill="#32CD32"/><rect x="410" y="493" width="5" height="8" fill="#32CD32"/><rect x="420" y="476" width="1" height="39" fill="#FF4500"/><rect x="418" y="478" width="5" height="23" fill="#FF4500"/><rect x="428" y="445" width="1" height="36" fill="#FF4500"/><rect x="426" y="465" width="5" height="13" fill="#FF4500"/><rect x="436" y="449" width="1" height="48" fill="#32CD32"/><rect x="434" y="465" width="5" height="23" fill="#32CD32"/><rect x="444" y="440" width="1" height="48" fill="#FF4500"/><rect x="442" y="441" width="5" height="46" fill="#FF4500"/><rect x="452" y="439" width="1" height="19" fill="#32CD32"/><rect x="450" y="441" width="5" height="7" fill="#32CD32"/><rect x="460" y="437" width="1" height="25" fill="#32CD32"/><rect x="458" y="448" width="5" height="6" fill="#32CD32"/><rect x="468" y="441" width="1" height="19" fill="#FF4500"/><rect x="466" y="448" width="5" height="7" fill="#FF4500"/><rect x="476" y="430" width="1" height="22" fill="#FF4500"/><rect x="474" y="439" width="5" height="10" fill="#FF4500"/><rect x="484" y="438" width="1" height="65" fill="#32CD32"/><rect x="482" y="439" width="5" height="32" fill="#32CD32"/><rect x="492" y="436" width="1" height="37" fill="#FF4500"/><rect x="490" y="457" width="5" height="15" fill="#FF4500"/><rect x="500" y="454" width="1" height="15" fill="#FF4500"/><rect x="498" y="455" width="5" height="3" fill="#FF4500"/><rect x="508" y="445" width="1" height="21" fill="#32CD32"/><rect x="506" y="455" width="5" height="9" fill="#32CD32"/><rect x="516" y="460" width="1" height="31" fill="#32CD32"/><rect x="514" y="463" width="5" height="26" fill="#32CD32"/><rect x="524" y="483" width="1" height="23" fill="#32CD32"/><rect x="522" y="488" width="5" height="5" fill="#32CD32"/><rect x="532" y="454" width="1" height="67" fill="#FF4500"/><rect x="530" y="469" width="5" height="24" fill="#FF4500"/><rect x="540" y="460" width="1" height="36" fill="#32CD32"/><rect x="538" y="470" width="5" height="22" fill="#32CD32"/><rect x="548" y="473" width="1" height="19" fill="#FF4500"/><rect x="546" y="477" width="5" height="15" fill="#FF4500"/><rect x="556" y="461" width="1" height="30" fill="#FF4500"/><rect x="554" y="473" width="5" height="6" fill="#FF4500"/><rect x="564" y="443" width="1" height="33" fill="#FF4500"/><rect x="562" y="447" width="5" height="27" fill="#FF4500"/><rect x="572" y="442" width="1" height="26" fill="#32CD32"/><rect x="570" y="447" width="5" height="1" fill="#32CD32"/><rect x="580" y="311" width="1" height="147" fill="#FF4500"/><rect x="578" y="327" width="5" height="121" fill="#FF4500"/><rect x="588" y="301" width="1" height="37" fill="#FF4500"/><rect x="586" y="317" width="5" height="10" fill="#FF4500"/><rect x="596" y="277" width="1" height="28" fill="#32CD32"/><rect x="594" y="292" width="5" height="13" fill="#32CD32"/><rect x="604" y="274" width="1" height="36" fill="#FF4500"/><rect x="602" y="279" width="5" height="26" fill="#FF4500"/><rect x="612" y="263" width="1" height="32" fill="#32CD32"/><rect x="610" y="279" width="5" height="9" fill="#32CD32"/><rect x="620" y="281" width="1" height="28" fill="#32CD32"/><rect x="618" y="287" width="5" height="21" fill="#32CD32"/><rect x="628" y="269" width="1" height="57" fill="#FF4500"/><rect x="626" y="280" width="5" height="28" fill="#FF4500"/><rect x="636" y="265" width="1" height="22" fill="#32CD32"/><rect x="634" y="280" width="5" height="2" fill="#32CD32"/><rect x="644" y="265" width="1" height="18" fill="#FF4500"/><rect x="642" y="268" width="5" height="14" fill="#FF4500"/><rect x="652" y="262" width="1" height="18" fill="#32CD32"/><rect x="650" y="267" width="5" height="3" fill="#32CD32"/><rect x="660" y="233" width="1" height="44" fill="#FF4500"/><rect x="658" y="234" width="5" height="37" fill="#FF4500"/><rect x="668" y="218" width="1" height="24" fill="#FF4500"/><rect x="666" y="232" width="5" height="3" fill="#FF4500"/><rect x="676" y="195" width="1" height="52" fill="#FF4500"/><rect x="674" y="203" width="5" height="30" fill="#FF4500"/><rect x="684" y="193" width="1" height="32" fill="#FF4500"/><rect x="682" y="202" width="5" height="1" fill="#FF4500"/><rect x="692" y="193" width="1" height="13" fill="#32CD32"/><rect x="690" y="201" width="5" height="4" fill="#32CD32"/><rect x="700" y="173" width="1" height="34" fill="#FF4500"/><rect x="698" y="181" width="5" height="23" fill="#FF4500"/><rect x="708" y="160" width="1" height="24" fill="#FF4500"/><rect x="706" y="168" width="5" height="15" fill="#FF4500"/><rect x="716" y="156" width="1" height="31" fill="#32CD32"/><rect x="714" y="168" width="5" height="13" fill="#32CD32"/><rect x="724" y="173" width="1" height="44" fill="#32CD32"/><rect x="722" y="181" width="5" height="12" fill="#32CD32"/><rect x="732" y="88" width="1" height="133" fill="#FF4500"/><rect x="730" y="119" width="5" height="73" fill="#FF4500"/><rect x="740" y="108" width="1" height="37" fill="#32CD32"/><rect x="738" y="118" width="5" height="9" fill="#32CD32"/><rect x="748" y="112" width="1" height="31" fill="#FF4500"/><rect x="746" y="124" width="5" height="3" fill="#FF4500"/><rect x="756" y="101" width="1" height="31" fill="#FF4500"/><rect x="754" y="114" width="5" height="12" fill="#FF4500"/><rect x="764" y="84" width="1" height="35" fill="#FF4500"/><rect x="762" y="87" width="5" height="28" fill="#FF4500"/><rect x="772" y="60" width="1" height="40" fill="#32CD32"/><rect x="770" y="88" width="5" height="11" fill="#32CD32"/><rect x="780" y="91" width="1" height="40" fill="#32CD32"/><rect x="778" y="98" width="5" height="12" fill="#32CD32"/><rect x="788" y="104" width="1" height="22" fill="#FF4500"/><rect x="786" y="108" width="5" height="1" fill="#FF4500"/><rect x="796" y="101" width="1" height="41" fill="#32CD32"/><rect x="794" y="108" width="5" height="25" fill="#32CD32"/><rect x="804" y="126" width="1" height="24" fill="#32CD32"/><rect x="802" y="132" width="5" height="4" fill="#32CD32"/><rect x="812" y="100" width="1" height="40" fill="#FF4500"/><rect x="810" y="105" width="5" height="31" fill="#FF4500"/><rect x="820" y="85" width="1" height="70" fill="#32CD32"/><rect x="818" y="105" width="5" height="30" fill="#32CD32"/><rect x="828" y="131" width="1" height="24" fill="#32CD32"/><rect x="826" y="134" width="5" height="8" fill="#32CD32"/><rect x="836" y="127" width="1" height="24" fill="#32CD32"/><rect x="834" y="136" width="5" height="10" fill="#32CD32"/><rect x="844" y="141" width="1" height="40" fill="#32CD32"/><rect x="842" y="144" width="5" height="31" fill="#32CD32"/><rect x="852" y="173" width="1" height="22" fill="#32CD32"/><rect x="850" y="175" width="5" height="3" fill="#32CD32"/><rect x="860" y="177" width="1" height="31" fill="#32CD32"/><rect x="858" y="178" width="5" height="27" fill="#32CD32"/><rect x="868" y="168" width="1" height="57" fill="#FF4500"/><rect x="866" y="175" width="5" height="30" fill="#FF4500"/><rect x="876" y="163" width="1" height="20" fill="#32CD32"/><rect x="874" y="175" width="5" height="4" fill="#32CD32"/><rect x="884" y="177" width="1" height="22" fill="#32CD32"/><rect x="882" y="178" width="5" height="18" fill="#32CD32"/><rect x="892" y="167" width="1" height="33" fill="#FF4500"/><rect x="890" y="167" width="5" height="29" fill="#FF4500"/><rect x="900" y="162" width="1" height="25" fill="#32CD32"/><rect x="898" y="166" width="5" height="18" fill="#32CD32"/><rect x="908" y="168" width="1" height="38" fill="#FF4500"/><rect x="906" y="169" width="5" height="15" fill="#FF4500"/><rect x="916" y="147" width="1" height="38" fill="#FF4500"/><rect x="914" y="168" width="5" height="2" fill="#FF4500"/><rect x="924" y="161" width="1" height="26" fill="#32CD32"/><rect x="922" y="168" width="5" height="3" fill="#32CD32"/><rect x="932" y="161" width="1" height="13" fill="#FF4500"/><rect x="930" y="165" width="5" height="6" fill="#FF4500"/><rect x="940" y="157" width="1" height="30" fill="#32CD32"/><rect x="938" y="164" width="5" height="8" fill="#32CD32"/><rect x="948" y="162" width="1" height="23" fill="#FF4500"/><rect x="946" y="165" width="5" height="8" fill="#FF4500"/><rect x="956" y="159" width="1" height="34" fill="#32CD32"/><rect x="954" y="165" width="5" height="26" fill="#32CD32"/><rect x="964" y="163" width="1" height="34" fill="#32CD32"/><rect x="962" y="191" width="5" height="1" fill="#32CD32"/><rect x="972" y="184" width="1" height="58" fill="#32CD32"/><rect x="970" y="191" width="5" height="49" fill="#32CD32"/><rect x="980" y="232" width="1" height="21" fill="#32CD32"/><rect x="978" y="238" width="5" height="5" fill="#32CD32"/><rect x="988" y="231" width="1" height="42" fill="#32CD32"/><rect x="986" y="243" width="5" height="24" fill="#32CD32"/><rect x="996" y="254" width="1" height="25" fill="#FF4500"/><rect x="994" y="262" width="5" height="6" fill="#FF4500"/><rect x="1004" y="236" width="1" height="39" fill="#FF4500"/><rect x="1002" y="241" width="5" height="22" fill="#FF4500"/><rect x="1012" y="193" width="1" height="60" fill="#FF4500"/><rect x="1010" y="223" width="5" height="20" fill="#FF4500"/><rect x="1020" y="196" width="1" height="28" fill="#FF4500"/><rect x="1018" y="207" width="5" height="16" fill="#FF4500"/><rect x="1028" y="200" width="1" height="16" fill="#FF4500"/><rect x="1026" y="207" width="5" height="1" fill="#FF4500"/><rect x="1036" y="206" width="1" height="22" fill="#32CD32"/><rect x="1034" y="208" width="5" height="16" fill="#32CD32"/><rect x="1044" y="215" width="1" height="18" fill="#FF4500"/><rect x="1042" y="220" width="5" height="5" fill="#FF4500"/><rect x="1052" y="184" width="1" height="42" fill="#FF4500"/><rect x="1050" y="189" width="5" height="33" fill="#FF4500"/><rect x="1060" y="161" width="1" height="34" fill="#FF4500"/><rect x="1058" y="177" width="5" height="14" fill="#FF4500"/><rect x="1068" y="159" width="1" height="21" fill="#FF4500"/><rect x="1066" y="164" width="5" height="14" fill="#FF4500"/><rect x="1076" y="172" width="1" height="8" fill="#32CD32"/><rect x="1074" y="172" width="5" height="6" fill="#32CD32"/><rect x="1084" y="166" width="1" height="35" fill="#32CD32"/><rect x="1082" y="178" width="5" height="18" fill="#32CD32"/><rect x="1092" y="189" width="1" height="18" fill="#32CD32"/><rect x="1090" y="195" width="5" height="5" fill="#32CD32"/><rect x="1100" y="198" width="1" height="49" fill="#32CD32"/><rect x="1098" y="200" width="5" height="35" fill="#32CD32"/><rect x="1108" y="219" width="1" height="51" fill="#FF4500"/><rect x="1106" y="225" width="5" height="9" fill="#FF4500"/><rect x="1116" y="208" width="1" height="32" fill="#32CD32"/><rect x="1114" y="224" width="5" height="3" fill="#32CD32"/><rect x="1124" y="220" width="1" height="15" fill="#32CD32"/><rect x="1122" y="227" width="5" height="6" fill="#32CD32"/><rect x="1132" y="217" width="1" height="28" fill="#32CD32"/><rect x="1130" y="233" width="5" height="1" fill="#32CD32"/><rect x="1140" y="184" width="1" height="51" fill="#FF4500"/><rect x="1138" y="195" width="5" height="39" fill="#FF4500"/><rect x="1148" y="175" width="1" height="30" fill="#FF4500"/><rect x="1146" y="178" width="5" height="18" fill="#FF4500"/><rect x="1156" y="167" width="1" height="61" fill="#32CD32"/><rect x="1154" y="178" width="5" height="36" fill="#32CD32"/><rect x="1164" y="187" width="1" height="35" fill="#FF4500"/><rect x="1162" y="203" width="5" height="10" fill="#FF4500"/><rect x="1172" y="195" width="1" height="16" fill="#32CD32"/><rect x="1170" y="203" width="5" height="7" fill="#32CD32"/><rect x="1180" y="183" width="1" height="35" fill="#FF4500"/><rect x="1178" y="183" width="5" height="28" fill="#FF4500"/><rect x="1188" y="172" width="1" height="27" fill="#32CD32"/><rect x="1186" y="182" width="5" height="14" fill="#32CD32"/><rect x="1196" y="180" width="1" height="34" fill="#32CD32"/><rect x="1194" y="195" width="5" height="7" fill="#32CD32"/><rect x="1204" y="135" width="1" height="94" fill="#FF4500"/><rect x="1202" y="169" width="5" height="32" fill="#FF4500"/><rect x="1212" y="165" width="1" height="88" fill="#32CD32"/><rect x="1210" y="169" width="5" height="74" fill="#32CD32"/><rect x="1220" y="233" width="1" height="25" fill="#FF4500"/><rect x="1218" y="233" width="5" height="10" fill="#FF4500"/><rect x="1228" y="218" width="1" height="22" fill="#FF4500"/><rect x="1226" y="226" width="5" height="8" fill="#FF4500"/><rect x="1236" y="217" width="1" height="19" fill="#FF4500"/><rect x="1234" y="217" width="5" height="11" fill="#FF4500"/><rect x="1244" y="213" width="1" height="43" fill="#32CD32"/><rect x="1242" y="217" width="5" height="32" fill="#32CD32"/><rect x="1252" y="187" width="1" height="96" fill="#FF4500"/><rect x="1250" y="217" width="5" height="32" fill="#FF4500"/><rect x="1260" y="171" width="1" height="47" fill="#FF4500"/><rect x="1258" y="184" width="5" height="33" fill="#FF4500"/><rect x="1268" y="182" width="1" height="15" fill="#32CD32"/><rect x="1266" y="184" width="5" height="7" fill="#32CD32"/><rect x="1276" y="188" width="1" height="6" fill="#32CD32"/><rect x="1274" y="190" width="5" height="4" fill="#32CD32"/><rect x="1284" y="185" width="1" height="11" fill="#FF4500"/><rect x="1282" y="186" width="5" height="8" fill="#FF4500"/></g>
<g><rect x="12" y="577" width="1" height="1" fill="#C0C0C0"/><rect x="20" y="574" width="1" height="4" fill="#C0C0C0"/><rect x="28" y="571" width="1" height="7" fill="#C0C0C0"/><rect x="36" y="568" width="1" height="10" fill="#C0C0C0"/><rect x="44" y="568" width="1" height="10" fill="#C0C0C0"/><rect x="52" y="568" width="1" height="10" fill="#C0C0C0"/><rect x="60" y="570" width="1" height="8" fill="#C0C0C0"/><rect x="68" y="571" width="1" height="7" fill="#C0C0C0"/><rect x="76" y="571" width="1" height="7" fill="#C0C0C0"/><rect x="84" y="570" width="1" height="8" fill="#C0C0C0"/><rect x="92" y="570" width="1" height="8" fill="#C0C0C0"/><rect x="100" y="570" width="1" height="8" fill="#C0C0C0"/><rect x="108" y="572" width="1" height="6" fill="#C0C0C0"/><rect x="116" y="573" width="1" height="5" fill="#C0C0C0"/><rect x="124" y="573" width="1" height="5" fill="#C0C0C0"/><rect x="132" y="573" width="1" height="5" fill="#C0C0C0"/><rect x="140" y="572" width="1" height="6" fill="#C0C0C0"/><rect x="148" y="572" width="1" height="6" fill="#C0C0C0"/><rect x="156" y="573" width="1" height="5" fill="#C0C0C0"/><rect x="164" y="573" width="1" height="5" fill="#C0C0C0"/><rect x="172" y="573" width="1" height="5" fill="#C0C0C0"/><rect x="180" y="574" width="1" height="4" fill="#C0C0C0"/><rect x="188" y="575" width="1" height="3" fill="#C0C0C0"/><rect x="196" y="575" width="1" height="3" fill="#C0C0C0"/><rect x="204" y="576" width="1" height="2" fill="#C0C0C0"/><rect x="212" y="576" width="1" height="2" fill="#C0C0C0"/><rect x="220" y="576" width="1" height="2" fill="#C0C0C0"/><rect x="228" y="577" width="1" height="1" fill="#C0C0C0"/><rect x="236" y="577" width="1" height="1" fill="#C0C0C0"/><rect x="244" y="576" width="1" height="2" fill="#C0C0C0"/><rect x="252" y="575" width="1" height="3" fill="#C0C0C0"/><rect x="260" y="576" width="1" height="2" fill="#C0C0C0"/><rect x="268" y="576" width="1" height="2" fill="#C0C0C0"/><rect x="276" y="575" width="1" height="3" fill="#C0C0C0"/><rect x="284" y="574" width="1" height="4" fill="#C0C0C0"/><rect x="292" y="575" width="1" height="3" fill="#C0C0C0"/><rect x="300" y="576" width="1" height="2" fill="#C0C0C0"/><rect x="308" y="576" width="1" height="2" fill="#C0C0C0"/><rect x="316" y="576" width="1" height="2" fill="#C0C0C0"/><rect x="324" y="576" width="1" height="2" fill="#C0C0C0"/><rect x="340" y="577" width="1" height="2" fill="#C0C0C0"/><rect x="348" y="577" width="1" height="6" fill="#C0C0C0"/><rect x="356" y="577" width="1" height="7" fill="#C0C0C0"/><rect x="364" y="577" width="1" height="9" fill="#C0C0C0"/><rect x="372" y="577" width="1" height="10" fill="#C0C0C0"/><rect x="380" y="577" width="1" height="12" fill="#C0C0C0"/><rect x="388" y="577" width="1" height="13" fill="#C0C0C0"/><rect x="396" y="577" width="1" height="14" fill="#C0C0C0"/><rect x="404" y="577" width="1" height="14" fill="#C0C0C0"/><rect x="412" y="577" width="1" height="15" fill="#C0C0C0"/><rect x="420" y="577" width="1" height="14" fill="#C0C0C0"/><rect x="428" y="577" width="1" height="14" fill="#C0C0C0"/><rect x="436" y="577" width="1" height="13" fill="#C0C0C0"/><rect x="444" y="577" width="1" height="11" fill="#C0C0C0"/><rect x="452" y="577" width="1" height="9" fill="#C0C0C0"/><rect x="460" y="577" width="1" height="7" fill="#C0C0C0"/><rect x="468" y="577" width="1" height="6" fill="#C0C0C0"/><rect x="476" y="577" width="1" height="5" fill="#C0C0C0"/><rect x="484" y="577" width="1" height="5" fill="#C0C0C0"/><rect x="492" y="577" width="1" height="5" fill="#C0C0C0"/><rect x="500" y="577" width="1" height="5" fill="#C0C0C0"/><rect x="508" y="577" width="1" height="4" fill="#C0C0C0"/><rect x="516" y="577" width="1" height="5" fill="#C0C0C0"/><rect x="524" y="577" width="1" height="6" fill="#C0C0C0"/><rect x="532" y="577" width="1" height="6" fill="#C0C0C0"/><rect x="540" y="577" width="1" height="6" fill="#C0C0C0"/><rect x="548" y="577" width="1" height="5" fill="#C0C0C0"/><rect x="556" y="577" width="1" height="5" fill="#C0C0C0"/><rect x="564" y="577" width="1" height="4" fill="#C0C0C0"/><rect x="572" y="577" width="1" height="2" fill="#C0C0C0"/><rect x="580" y="577" width="1" height="1" fill="#C0C0C0"/><rect x="588" y="572" width="1" height="6" fill="#C0C0C0"/><rect x="596" y="566" width="1" height="12" fill="#C0C0C0"/><rect x="604" y="562" width="1" height="16" fill="#C0C0C0"/><rect x="612" y="558" width="1" height="20" fill="#C0C0C0"/><rect x="620" y="556" width="1" height="22" fill="#C0C0C0"/><rect x="628" y="555" width="1" height="23" fill="#C0C0C0"/><rect x="636" y="553" width="1" height="25" fill="#C0C0C0"/><rect x="644" y="552" width="1" height="26" fill="#C0C0C0"/><rect x="652" y="552" width="1" height="26" fill="#C0C0C0"/><rect x="660" y="550" width="1" height="28" fill="#C0C0C0"/><rect x="668" y="548" width="1" height="30" fill="#C0C0C0"/><rect x="676" y="547" width="1" height="31" fill="#C0C0C0"/><rect x="684" y="546" width="1" height="32" fill="#C0C0C0"/><rect x="692" y="545" width="1" height="33" fill="#C0C0C0"/><rect x="700" y="545" width="1" height="33" fill="#C0C0C0"/><rect x="708" y="544" width="1" height="34" fill="#C0C0C0"/><rect x="716" y="544" width="1" height="34" fill="#C0C0C0"/><rect x="724" y="543" width="1" height="35" fill="#C0C0C0"/><rect x="732" y="542" width="1" height="36" fill="#C0C0C0"/><rect x="740" y="542" width="1" height="36" fill="#C0C0C0"/><rect x="748" y="542" width="1" height="36" fill="#C0C0C0"/><rect x="756" y="541" width="1" height="37" fill="#C0C0C0"/><rect x="764" y="541" width="1" height="37" fill="#C0C0C0"/><rect x="772" y="540" width="1" height="38" fill="#C0C0C0"/><rect x="780" y="541" width="1" height="37" fill="#C0C0C0"/><rect x="788" y="542" width="1" height="36" fill="#C0C0C0"/><rect x="796" y="545" width="1" height="33" fill="#C0C0C0"/><rect x="804" y="547" width="1" height="31" fill="#C0C0C0"/><rect x="812" y="548" width="1" height="30" fill="#C0C0C0"/><rect x="820" y="550" width="1" height="28" fill="#C0C0C0"/><rect x="828" y="553" width="1" height="25" fill="#C0C0C0"/><rect x="836" y="555" width="1" height="23" fill="#C0C0C0"/><rect x="844" y="558" width="1" height="20" fill="#C0C0C0"/><rect x="852" y="562" width="1" height="16" fill="#C0C0C0"/><rect x="860" y="565" width="1" height="13" fill="#C0C0C0"/><rect x="868" y="568" width="1" height="10" fill="#C0C0C0"/><rect x="876" y="568" width="1" height="10" fill="#C0C0C0"/><rect x="884" y="570" width="1" height="8" fill="#C0C0C0"/><rect x="892" y="572" width="1" height="6" fill="#C0C0C0"/><rect x="900" y="573" width="1" height="5" fill="#C0C0C0"/><rect x="908" y="574" width="1" height="4" fill="#C0C0C0"/><rect x="916" y="574" width="1" height="4" fill="#C0C0C0"/><rect x="924" y="575" width="1" height="3" fill="#C0C0C0"/><rect x="932" y="575" width="1" height="3" fill="#C0C0C0"/><rect x="940" y="575" width="1" height="3" fill="#C0C0C0"/><rect x="948" y="575" width="1" height="3" fill="#C0C0C0"/><rect x="956" y="576" width="1" height="2" fill="#C0C0C0"/><rect x="964" y="577" width="1" height="1" fill="#C0C0C0"/><rect x="980" y="577" width="1" height="2" fill="#C0C0C0"/><rect x="988" y="577" width="1" height="5" fill="#C0C0C0"/><rect x="996" y="577" width="1" height="7" fill="#C0C0C0"/><rect x="1004" y="577" width="1" height="8" fill="#C0C0C0"/><rect x="1012" y="577" width="1" height="8" fill="#C0C0C0"/><rect x="1020" y="577" width="1" height="7" fill="#C0C0C0"/><rect x="1028" y="577" width="1" height="6" fill="#C0C0C0"/><rect x="1036" y="577" width="1" height="6" fill="#C0C0C0"/><rect x="1044" y="577" width="1" height="5" fill="#C0C0C0"/><rect x="1052" y="577" width="1" height="4" fill="#C0C0C0"/><rect x="1060" y="577" width="1" height="2" fill="#C0C0C0"/><rect x="1100" y="577" width="1" height="1" fill="#C0C0C0"/><rect x="1108" y="577" width="1" height="2" fill="#C0C0C0"/><rect x="1116" y="577" width="1" height="2" fill="#C0C0C0"/><rect x="1124" y="577" width="1" height="1" fill="#C0C0C0"/><rect x="1132" y="577" width="1" height="2" fill="#C0C0C0"/><rect x="1140" y="577" width="1" height="1" fill="#C0C0C0"/><rect x="1148" y="576" width="1" height="2" fill="#C0C0C0"/><rect x="1156" y="577" width="1" height="1" fill="#C0C0C0"/><rect x="1180" y="577" width="1" height="1" fill="#C0C0C0"/><rect x="1188" y="577" width="1" height="1" fill="#C0C0C0"/><rect x="1196" y="577" width="1" height="1" fill="#C0C0C0"/><rect x="1204" y="576" width="1" height="2" fill="#C0C0C0"/><rect x="1220" y="577" width="1" height="1" fill="#C0C0C0"/><rect x="1228" y="577" width="1" height="1" fill="#C0C0C0"/><rect x="1244" y="577" width="1" height="2" fill="#C0C0C0"/><rect x="1252" y="577" width="1" height="2" fill="#C0C0C0"/><rect x="1260" y="577" width="1" height="1" fill="#C0C0C0"/><rect x="1268" y="577" width="1" height="1" fill="#C0C0C0"/><rect x="1276" y="577" width="1" height="1" fill="#C0C0C0"/><path d="M2 577h3v1h-3zM8 577h3v1h-3zM14 577h3v1h-3zM20 577h3v1h-3zM26 577h3v1h-3zM32 576h3v1h-3zM38 575h3v1h-3zM44 574h3v1h-3zM50 574h2v1h-2zM52 573h1v1h-1zM56 572h3v1h-3zM62 571h3v1h-3zM68 570h3v1h-3zM74 570h3v1h-3zM80 569h3v1h-3zM86 569h3v1h-3zM92 568h3v1h-3zM98 568h3v1h-3zM104 569h3v1h-3zM110 570h3v1h-3zM116 570h3v1h-3zM122 570h3v1h-3zM128 571h3v1h-3zM134 571h3v1h-3zM140 571h3v1h-3zM146 571h3v1h-3zM152 571h3v1h-3zM158 571h3v1h-3zM164 571h3v1h-3zM170 571h3v1h-3zM176 571h3v1h-3zM182 571h3v1h-3zM188 572h3v1h-3zM194 572h3v1h-3zM200 572h3v1h-3zM206 572h3v1h-3zM212 572h3v1h-3zM218 573h3v1h-3zM224 573h3v1h-3zM230 573h3v1h-3zM236 574h3v1h-3zM242 574h3v1h-3zM248 575h3v1h-3zM254 575h3v1h-3zM260 575h3v1h-3zM266 575h3v1h-3zM272 575h3v1h-3zM278 575h1v1h-1zM279 574h2v1h-2zM284 574h3v1h-3zM290 574h3v1h-3zM296 574h3v1h-3zM302 574h3v1h-3zM308 574h3v1h-3zM314 574h3v1h-3zM320 574h3v1h-3zM326 574h3v1h-3zM332 574h3v1h-3zM338 574h3v1h-3zM344 575h1v1h-1zM345 576h2v1h-2zM350 577h3v1h-3zM356 577h3v1h-3zM362 578h1v1h-1zM363 579h2v1h-2zM368 580h3v1h-3zM374 581h1v1h-1zM375 582h2v1h-2zM380 582h1v1h-1zM381 583h2v1h-2zM386 584h3v1h-3zM392 585h2v1h-2zM394 586h1v1h-1zM398 587h3v1h-3zM404 588h3v1h-3zM410 589h3v1h-3zM416 589h1v1h-1zM417 590h2v1h-2zM422 591h3v1h-3zM428 591h3v1h-3zM434 591h3v1h-3zM440 591h3v1h-3zM446 591h3v1h-3zM452 591h3v1h-3zM458 591h3v1h-3zM464 590h3v1h-3zM470 589h3v1h-3zM476 588h3v1h-3zM482 588h3v1h-3zM488 587h3v1h-3zM494 587h1v1h-1zM495 586h2v1h-2zM500 585h2v1h-2zM502 584h1v1h-1zM506 584h3v1h-3zM512 584h3v1h-3zM518 584h3v1h-3zM524 584h3v1h-3zM530 584h3v1h-3zM536 584h3v1h-3zM542 584h3v1h-3zM548 584h3v1h-3zM554 584h3v1h-3zM560 583h3v1h-3zM566 583h3v1h-3zM572 582h3v1h-3zM578 582h3v1h-3zM584 581h2v1h-2zM586 580h1v1h-1zM590 579h3v1h-3zM596 578h3v1h-3zM602 577h1v1h-1zM603 576h2v1h-2zM608 575h3v1h-3zM614 573h1v1h-1zM615 572h2v1h-2zM620 570h1v1h-1zM621 569h2v1h-2zM626 567h2v1h-2zM628 566h1v1h-1zM632 565h1v1h-1zM633 564h2v1h-2zM638 562h2v1h-2zM640 561h1v1h-1zM644 559h3v1h-3zM650 557h2v1h-2zM652 556h1v1h-1zM656 555h3v1h-3zM662 553h3v1h-3zM668 552h3v1h-3zM674 552h1v1h-1zM675 551h2v1h-2zM680 550h3v1h-3zM686 549h3v1h-3zM692 548h3v1h-3zM698 547h3v1h-3zM704 547h3v1h-3zM710 546h3v1h-3zM716 545h3v1h-3zM722 544h3v1h-3zM728 544h1v1h-1zM729 543h2v1h-2zM734 543h3v1h-3zM740 543h3v1h-3zM746 542h3v1h-3zM752 541h3v1h-3zM758 541h3v1h-3zM764 541h3v1h-3zM770 541h3v1h-3zM776 541h1v1h-1zM777 540h2v1h-2zM782 540h3v1h-3zM788 540h3v1h-3zM794 540h3v1h-3zM800 540h3v1h-3zM806 541h3v1h-3zM812 541h2v1h-2zM814 542h1v1h-1zM818 542h3v1h-3zM824 543h3v1h-3zM830 544h2v1h-2zM832 545h1v1h-1zM836 545h1v1h-1zM837 546h2v1h-2zM842 547h3v1h-3zM848 548h3v1h-3zM854 550h3v1h-3zM860 552h3v1h-3zM866 554h3v1h-3zM872 556h3v1h-3zM878 558h3v1h-3zM884 559h1v1h-1zM885 560h2v1h-2zM890 562h3v1h-3zM896 563h2v1h-2zM898 564h1v1h-1zM902 565h3v1h-3zM908 566h3v1h-3zM914 567h1v1h-1zM915 568h2v1h-2zM920 569h3v1h-3zM926 569h1v1h-1zM927 570h2v1h-2zM932 570h3v1h-3zM938 571h3v1h-3zM944 572h3v1h-3zM950 573h3v1h-3zM956 573h3v1h-3zM962 573h3v1h-3zM968 574h3v1h-3zM974 575h3v1h-3zM980 575h3v1h-3zM986 576h3v1h-3zM992 577h3v1h-3zM998 578h2v1h-2zM1000 579h1v1h-1zM1004 579h3v1h-3zM1010 580h3v1h-3zM1016 581h2v1h-2zM1018 582h1v1h-1zM1022 582h3v1h-3zM1028 583h3v1h-3zM1034 583h3v1h-3zM1040 584h3v1h-3zM1046 584h3v1h-3zM1052 584h3v1h-3zM1058 584h3v1h-3zM1064 584h3v1h-3zM1070 583h3v1h-3zM1076 582h3v1h-3zM1082 581h3v1h-3zM1088 581h3v1h-3zM1094 580h1v1h-1zM1095 579h2v1h-2zM1100 579h3v1h-3zM1106 579h3v1h-3zM1112 579h3v1h-3zM1118 579h3v1h-3zM1124 578h3v1h-3zM1130 578h3v1h-3zM1136 578h3v1h-3zM1142 579h3v1h-3zM1148 579h3v1h-3zM1154 579h3v1h-3zM1160 579h3v1h-3zM1166 579h3v1h-3zM1172 579h3v1h-3zM1178 579h3v1h-3zM1184 579h3v1h-3zM1190 579h3v1h-3zM1196 578h3v1h-3zM1202 578h2v1h-2zM1204 577h1v1h-1zM1208 577h3v1h-3zM1214 577h3v1h-3zM1220 577h3v1h-3zM1226 577h3v1h-3zM1232 577h3v1h-3zM1238 577h3v1h-3zM1244 578h3v1h-3zM1250 578h3v1h-3zM1256 578h3v1h-3zM1262 578h3v1h-3zM1268 578h3v1h-3zM1274 579h3v1h-3zM1280 579h3v1h-3z" fill="#FF0000"/></g>
<line x1="3" y1="638.5" x2="1622" y2="638.5" stroke="#C0C0C0" stroke-dasharray="3 3"/>
<line x1="3" y1="688.5" x2="1622" y2="688.5" stroke="#C0C0C0" stroke-dasharray="3 3"/>
<g><path d="M0 659h1v2h-1zM1 657h1v2h-1zM2 655h1v2h-1zM3 653h1v2h-1zM4 651h1v2h-1zM5 651h1v1h-1zM6 650h3v1h-3zM9 649h3v1h-3zM12 648h4v1h-4zM16 647h4v1h-4zM20 646h2v1h-2zM22 645h1v1h-1zM23 644h1v1h-1zM24 643h2v1h-2zM26 642h1v1h-1zM27 641h4v1h-4zM31 642h2v1h-2zM33 643h2v1h-2zM35 644h1v1h-1zM36 645h2v1h-2zM38 646h1v1h-1zM39 647h1v1h-1zM40 648h1v1h-1zM41 649h2v1h-2zM43 650h1v1h-1zM44 651h1v1h-1zM45 652h1v1h-1zM46 653h1v1h-1zM47 654h1v1h-1zM48 655h1v1h-1zM49 656h2v1h-2zM51 657h1v1h-1zM52 658h1v1h-1zM53 659h1v1h-1zM54 660h1v1h-1zM55 661h1v1h-1zM56 662h2v1h-2zM58 663h1v1h-1zM59 664h1v1h-1zM60 665h2v1h-2zM62 664h3v1h-3zM65 663h3v1h-3zM68 662h2v1h-2zM70 661h1v1h-1zM71 660h1v1h-1zM72 659h1v1h-1zM73 658h1v1h-1zM74 657h1v1h-1zM75 656h2v1h-2zM77 655h2v1h-2zM79 654h1v1h-1zM80 653h2v1h-2zM82 652h4v1h-4zM86 653h2v1h-2zM88 654h2v1h-2zM90 655h1v1h-1zM91 656h2v1h-2zM93 657h3v1h-3zM96 658h2v1h-2zM98 659h2v1h-2zM100 660h2v1h-2zM102 661h1v1h-1zM103 662h2v1h-2zM105 663h1v1h-1zM106 664h2v1h-2zM108 665h9v1h-9zM117 664h1v1h-1zM118 663h2v1h-2zM120 662h1v1h-1zM121 661h1v1h-1zM122 660h1v1h-1zM123 659h2v1h-2zM125 658h1v1h-1zM126 657h2v1h-2zM128 656h2v1h-2zM130 655h1v1h-1zM131 654h2v1h-2zM133 653h1v1h-1zM134 652h2v1h-2zM136 651h2v1h-2zM138 650h1v1h-1zM139 649h2v1h-2zM141 650h1v2h-1zM142 652h1v1h-1zM143 653h1v2h-1zM144 655h1v2h-1zM145 657h1v1h-1zM146 658h1v2h-1zM147 660h1v2h-1zM148 662h2v1h-2zM150 661h2v1h-2zM152 660h2v1h-2zM154 659h8v1h-8zM162 660h12v1h-12zM174 661h2v1h-2zM176 662h1v1h-1zM177 663h2v1h-2zM179 664h3v1h-3zM182 663h3v1h-3zM185 662h2v1h-2zM187 661h5v1h-5zM192 660h6v1h-6zM198 661h3v1h-3zM201 662h2v1h-2zM203 663h4v1h-4zM207 664h3v1h-3zM210 665h4v1h-4zM214 666h4v1h-4zM218 667h4v1h-4zM222 666h2v1h-2zM224 665h2v1h-2zM226 664h5v1h-5zM231 665h2v1h-2zM233 666h2v1h-2zM235 667h2v1h-2zM237 665h1v2h-1zM238 664h1v1h-1zM239 662h1v2h-1zM240 661h1v1h-1zM241 659h1v2h-1zM242 657h1v2h-1zM243 656h1v1h-1zM244 655h19v1h-19zM263 656h4v1h-4zM267 657h4v1h-4zM271 656h6v1h-6zM277 655h2v1h-2zM279 654h1v1h-1zM280 653h2v1h-2zM282 652h3v1h-3zM285 653h1v1h-1zM286 654h1v2h-1zM287 656h1v2h-1zM288 658h1v2h-1zM289 660h1v1h-1zM290 661h1v2h-1zM291 663h1v2h-1zM292 665h5v1h-5zM297 664h4v1h-4zM301 663h2v1h-2zM303 662h1v1h-1zM304 661h2v1h-2zM306 660h1v1h-1zM307 659h5v1h-5zM312 660h4v1h-4zM316 661h2v1h-2zM318 662h1v1h-1zM319 663h2v1h-2zM321 664h1v1h-1zM322 665h1v1h-1zM323 666h1v1h-1zM324 667h1v1h-1zM325 668h1v1h-1zM326 669h1v2h-1zM327 671h1v2h-1zM328 673h1v1h-1zM329 674h1v2h-1zM330 676h1v1h-1zM331 677h1v2h-1zM332 679h1v1h-1zM333 680h2v1h-2zM335 681h3v1h-3zM338 682h2v1h-2zM340 683h3v1h-3zM343 684h2v1h-2zM345 685h7v1h-7zM352 684h2v1h-2zM354 683h6v1h-6zM360 684h4v1h-4zM364 685h1v1h-1zM365 684h3v1h-3zM368 683h2v1h-2zM370 682h3v1h-3zM373 683h1v1h-1zM374 684h1v1h-1zM375 685h1v1h-1zM376 686h1v1h-1zM377 687h1v1h-1zM378 688h1v1h-1zM379 689h3v1h-3zM382 688h1v1h-1zM383 687h1v1h-1zM384 686h1v1h-1zM385 685h1v1h-1zM386 684h1v1h-1zM387 683h1v1h-1zM388 682h12v1h-12zM400 683h4v1h-4zM404 684h7v1h-7zM411 685h1v1h-1zM412 684h1v1h-1zM413 683h1v2h-1zM414 682h1v1h-1zM415 681h1v1h-1zM416 680h1v1h-1zM417 679h1v1h-1zM418 678h1v1h-1zM419 676h1v2h-1zM420 675h2v1h-2zM422 674h2v1h-2zM424 673h2v1h-2zM426 672h1v1h-1zM427 671h2v1h-2zM429 672h2v1h-2zM431 673h1v1h-1zM432 674h1v1h-1zM433 675h2v1h-2zM435 676h2v1h-2zM437 674h1v2h-1zM438 672h1v2h-1zM439 670h1v2h-1zM440 668h1v2h-1zM441 666h1v2h-1zM442 664h1v2h-1zM443 662h1v2h-1zM444 661h3v1h-3zM447 662h5v1h-5zM452 663h4v1h-4zM456 664h3v1h-3zM459 665h3v1h-3zM462 664h3v1h-3zM465 663h4v1h-4zM469 662h5v1h-5zM474 661h3v1h-3zM477 662h1v1h-1zM478 663h1v1h-1zM479 664h1v1h-1zM480 665h1v1h-1zM481 666h1v1h-1zM482 667h1v1h-1zM483 668h1v1h-1zM484 669h2v1h-2zM486 668h3v1h-3zM489 667h2v1h-2zM491 666h4v1h-4zM495 665h7v1h-7zM502 666h3v1h-3zM505 667h3v1h-3zM508 668h1v1h-1zM509 669h1v1h-1zM510 670h2v1h-2zM512 671h1v1h-1zM513 672h1v1h-1zM514 673h1v1h-1zM515 674h2v1h-2zM517 675h5v1h-5zM522 676h3v1h-3zM525 675h1v1h-1zM526 674h1v1h-1zM527 672h1v2h-1zM528 671h1v1h-1zM529 670h1v1h-1zM530 669h1v1h-1zM531 668h1v1h-1zM532 667h1v1h-1zM533 668h2v1h-2zM535 669h1v1h-1zM536 670h1v1h-1zM537 671h2v1h-2zM539 672h4v1h-4zM543 671h2v1h-2zM545 670h1v1h-1zM546 669h2v1h-2zM548 668h5v1h-5zM553 667h4v1h-4zM557 666h1v1h-1zM558 665h1v1h-1zM559 664h1v1h-1zM560 663h1v1h-1zM561 662h1v1h-1zM562 661h1v1h-1zM563 660h1v1h-1zM564 659h8v1h-8zM572 658h1v1h-1zM573 655h1v3h-1zM574 652h1v3h-1zM575 649h1v3h-1zM576 646h1v3h-1zM577 643h1v3h-1zM578 640h1v3h-1zM579 637h1v3h-1zM580 635h1v2h-1zM581 635h3v1h-3zM584 634h5v1h-5zM589 633h5v1h-5zM594 632h4v1h-4zM598 631h2v1h-2zM600 630h3v1h-3zM603 629h4v1h-4zM607 630h2v1h-2zM609 631h3v1h-3zM612 632h1v1h-1zM613 633h2v1h-2zM615 634h1v1h-1zM616 635h1v1h-1zM617 636h1v1h-1zM618 637h1v1h-1zM619 638h4v1h-4zM623 637h2v1h-2zM625 636h2v1h-2zM627 635h9v1h-9zM636 636h1v1h-1zM637 635h5v1h-5zM642 634h11v1h-11zM653 633h2v1h-2zM655 632h2v1h-2zM657 631h3v1h-3zM660 630h4v1h-4zM664 629h5v1h-5zM669 628h3v1h-3zM672 627h3v1h-3zM675 626h14v1h-14zM689 627h5v1h-5zM694 626h2v1h-2zM696 625h3v1h-3zM699 624h4v1h-4zM703 623h6v1h-6zM709 624h2v1h-2zM711 625h2v1h-2zM713 626h1v1h-1zM714 627h2v1h-2zM716 628h1v1h-1zM717 629h1v1h-1zM718 630h2v1h-2zM720 631h1v1h-1zM721 632h2v1h-2zM723 633h2v1h-2zM725 632h1v2h-1zM726 631h1v1h-1zM727 630h1v1h-1zM728 629h1v1h-1zM729 628h1v1h-1zM730 627h1v1h-1zM731 626h1v1h-1zM732 625h3v1h-3zM735 626h4v1h-4zM739 627h12v1h-12zM751 626h6v1h-6zM757 625h3v1h-3zM760 624h3v1h-3zM763 623h3v1h-3zM766 624h1v1h-1zM767 625h2v1h-2zM769 626h1v1h-1zM770 627h2v1h-2zM772 628h2v1h-2zM774 629h1v1h-1zM775 630h2v1h-2zM777 631h2v1h-2zM779 632h2v1h-2zM781 633h2v1h-2zM783 632h6v1h-6zM789 633h1v1h-1zM790 634h1v2h-1zM791 636h1v1h-1zM792 637h1v1h-1zM793 638h1v1h-1zM794 639h1v2h-1zM795 641h1v1h-1zM796 642h3v1h-3zM799 643h4v1h-4zM803 644h2v1h-2zM805 643h1v1h-1zM806 642h2v1h-2zM808 641h1v1h-1zM809 640h1v1h-1zM810 639h2v1h-2zM812 638h1v1h-1zM813 639h1v1h-1zM814 640h1v2h-1zM815 642h1v1h-1zM816 643h1v2h-1zM817 645h1v1h-1zM818 646h1v1h-1zM819 647h1v2h-1zM820 648h1v1h-1zM821 649h3v1h-3zM824 650h4v1h-4zM828 651h5v1h-5zM833 652h4v1h-4zM837 653h1v1h-1zM838 654h1v1h-1zM839 655h1v1h-1zM840 656h1v2h-1zM841 658h1v1h-1zM842 659h1v1h-1zM843 660h1v1h-1zM844 661h4v1h-4zM848 662h5v1h-5zM853 663h1v1h-1zM854 664h1v1h-1zM855 665h1v1h-1zM856 666h1v1h-1zM857 667h1v1h-1zM858 668h1v1h-1zM859 669h3v1h-3zM862 668h1v1h-1zM863 667h1v1h-1zM864 665h1v2h-1zM865 664h1v1h-1zM866 663h1v1h-1zM867 662h1v1h-1zM868 661h4v1h-4zM872 662h5v1h-5zM877 663h2v1h-2zM879 664h2v1h-2zM881 665h1v1h-1zM882 666h4v1h-4zM886 665h1v1h-1zM887 664h1v1h-1zM888 663h1v1h-1zM889 662h1v1h-1zM890 661h1v1h-1zM891 660h1v1h-1zM892 659h1v1h-1zM893 660h2v1h-2zM895 661h2v1h-2zM897 662h1v1h-1zM898 663h2v1h-2zM900 664h1v1h-1zM901 663h2v1h-2zM903 662h2v1h-2zM905 661h2v1h-2zM907 660h21v1h-21zM928 659h7v1h-7zM935 660h4v1h-4zM939 661h3v1h-3zM942 660h4v1h-4zM946 659h3v1h-3zM949 660h1v1h-1zM950 661h1v1h-1zM951 662h1v1h-1zM952 663h1v1h-1zM953 664h1v2h-1zM954 666h1v1h-1zM955 667h1v1h-1zM956 668h9v1h-9zM965 669h1v2h-1zM966 671h1v1h-1zM967 672h1v2h-1zM968 674h1v2h-1zM969 676h1v1h-1zM970 677h1v2h-1zM971 679h1v1h-1zM972 680h1v1h-1zM973 681h9v1h-9zM982 682h1v1h-1zM983 683h2v1h-2zM985 684h2v1h-2zM987 685h2v1h-2zM989 686h1v1h-1zM990 685h6v1h-6zM996 684h2v1h-2zM998 683h1v1h-1zM999 682h1v1h-1zM1000 681h1v1h-1zM1001 680h1v1h-1zM1002 679h1v1h-1zM1003 678h1v1h-1zM1004 677h1v1h-1zM1005 676h1v1h-1zM1006 675h1v1h-1zM1007 674h1v1h-1zM1008 673h2v1h-2zM1010 672h1v1h-1zM1011 671h1v1h-1zM1012 670h1v1h-1zM1013 669h1v1h-1zM1014 668h2v1h-2zM1016 667h1v1h-1zM1017 666h1v1h-1zM1018 665h2v1h-2zM1020 664h10v1h-10zM1030 665h1v1h-1zM1031 666h2v1h-2zM1033 667h1v1h-1zM1034 668h2v1h-2zM1036 669h3v1h-3zM1039 668h6v1h-6zM1045 666h1v2h-1zM1046 665h1v1h-1zM1047 664h1v1h-1zM1048 663h1v1h-1zM1049 662h1v1h-1zM1050 660h1v2h-1zM1051 659h1v1h-1zM1052 658h2v1h-2zM1054 657h2v1h-2zM1056 656h2v1h-2zM1058 655h3v1h-3zM1061 654h2v1h-2zM1063 653h2v1h-2zM1065 652h2v1h-2zM1067 651h3v1h-3zM1070 652h1v1h-1zM1071 653h2v1h-2zM1073 654h2v1h-2zM1075 655h1v1h-1zM1076 656h2v1h-2zM1078 657h1v1h-1zM1079 658h1v1h-1zM1080 659h2v1h-2zM1082 660h1v1h-1zM1083 661h2v1h-2zM1085 662h3v1h-3zM1088 663h3v1h-3zM1091 664h2v1h-2zM1093 665h1v1h-1zM1094 666h1v2h-1zM1095 668h1v1h-1zM1096 669h1v1h-1zM1097 670h1v1h-1zM1098 671h1v2h-1zM1099 673h2v1h-2zM1101 674h1v1h-1zM1102 673h2v1h-2zM1104 672h3v1h-3zM1107 671h12v1h-12zM1119 672h5v1h-5zM1124 673h8v1h-8zM1132 672h1v1h-1zM1133 671h1v1h-1zM1134 669h1v2h-1zM1135 667h1v2h-1zM1136 665h1v2h-1zM1137 663h1v2h-1zM1138 662h1v1h-1zM1139 660h1v2h-1zM1140 659h1v1h-1zM1141 658h1v1h-1zM1142 657h2v1h-2zM1144 656h2v1h-2zM1146 655h3v1h-3zM1149 655h1v2h-1zM1150 657h1v1h-1zM1151 658h1v1h-1zM1152 659h1v2h-1zM1153 661h1v1h-1zM1154 662h1v1h-1zM1155 663h1v2h-1zM1156 664h4v1h-4zM1160 663h3v1h-3zM1163 662h4v1h-4zM1167 663h4v1h-4zM1171 664h2v1h-2zM1173 663h1v1h-1zM1174 662h1v1h-1zM1175 661h1v1h-1zM1176 660h1v1h-1zM1177 659h1v1h-1zM1178 658h1v1h-1zM1179 657h1v1h-1zM1180 656h2v1h-2zM1182 657h2v1h-2zM1184 658h2v1h-2zM1186 659h2v1h-2zM1188 660h3v1h-3zM1191 661h4v1h-4zM1195 662h2v1h-2zM1197 661h1v1h-1zM1198 660h1v1h-1zM1199 658h1v2h-1zM1200 657h1v1h-1zM1201 656h1v1h-1zM1202 655h1v1h-1zM1203 654h2v1h-2zM1205 654h1v3h-1zM1206 657h1v2h-1zM1207 659h1v3h-1zM1208 662h1v2h-1zM1209 664h1v3h-1zM1210 667h1v2h-1zM1211 669h1v3h-1zM1212 672h4v1h-4zM1216 671h3v1h-3zM1219 670h3v1h-3zM1222 669h4v1h-4zM1226 668h3v1h-3zM1229 667h3v1h-3zM1232 666h3v1h-3zM1235 665h2v1h-2zM1237 666h1v1h-1zM1238 667h1v1h-1zM1239 668h1v1h-1zM1240 669h1v1h-1zM1241 670h1v1h-1zM1242 671h1v1h-1zM1243 672h3v1h-3zM1246 670h1v2h-1zM1247 669h1v1h-1zM1248 668h1v1h-1zM1249 667h1v1h-1zM1250 666h1v1h-1zM1251 665h1v1h-1zM1252 664h1v1h-1zM1253 663h1v1h-1zM1254 662h1v1h-1zM1255 661h1v1h-1zM1256 660h2v1h-2zM1258 659h1v1h-1zM1259 658h1v1h-1zM1260 657h5v1h-5zM1265 658h8v1h-8zM1273 659h6v1h-6zM1279 658h6v1h-6z" fill="#1E90FF"/></g>
<rect x="1616" y="293" width="6" height="6" fill="#32CD32"/><rect x="1618" y="295" width="2" height="2" fill="#fff"/><rect x="1616" y="429" width="6" height="6" fill="#0000FF"/><rect x="1618" y="431" width="2" height="2" fill="#fff"/><rect x="0" y="429" width="1" height="6" fill="#0000FF"/><path d="M1289.5 36 h12 l-6 6z" fill="#C0C0C0"/>
</svg>
<svg class="a" style="left:0;top:40px" width="10" height="10"><path d="M0 8 L4 3.5 L8.5 8z" fill="#000"/></svg>
<div class="t" id="title" style="left:14px;top:40px;letter-spacing:-0.63px">XAUUSD-,H4</div><div class="t" id="title2" style="left:91px;top:40px;letter-spacing:0.3px;word-spacing:0px">1311.89 1312.74 1311.65 1312.60</div>
<div class="t" id="macdt" style="left:-0.4px;top:540px;letter-spacing:-0.05px">MACD(12,26,9)</div><div class="t" style="left:89.2px;top:540px;letter-spacing:0.2px">0.173</div><div class="t" style="left:124.7px;top:540px;letter-spacing:0.3px">-0.319</div>
<div class="t" id="rsit" style="left:0px;top:604px;">RSI(14) 54.2554</div>
<div class="t tl" style="left:-4px;top:733px;">9 Jan 2019</div>
<div class="a" style="left:92px;top:728px;width:1px;height:3px;background:#000"></div>
<div class="t tl" style="left:90.5px;top:733px;letter-spacing:0.1px">11 Jan 08:00</div>
<div class="a" style="left:188px;top:728px;width:1px;height:3px;background:#000"></div>
<div class="t tl" style="left:186.5px;top:733px;letter-spacing:0.1px">15 Jan 08:00</div>
<div class="a" style="left:284px;top:728px;width:1px;height:3px;background:#000"></div>
<div class="t tl" style="left:282.5px;top:733px;letter-spacing:0.1px">17 Jan 08:00</div>
<div class="a" style="left:380px;top:728px;width:1px;height:3px;background:#000"></div>
<div class="t tl" style="left:378.5px;top:733px;letter-spacing:0.1px">21 Jan 08:00</div>
<div class="a" style="left:476px;top:728px;width:1px;height:3px;background:#000"></div>
<div class="t tl" style="left:474.5px;top:733px;letter-spacing:0.1px">23 Jan 08:00</div>
<div class="a" style="left:572px;top:728px;width:1px;height:3px;background:#000"></div>
<div class="t tl" style="left:570.5px;top:733px;letter-spacing:0.1px">25 Jan 08:00</div>
<div class="a" style="left:668px;top:728px;width:1px;height:3px;background:#000"></div>
<div class="t tl" style="left:666.5px;top:733px;letter-spacing:0.1px">29 Jan 08:00</div>
<div class="a" style="left:764px;top:728px;width:1px;height:3px;background:#000"></div>
<div class="t tl" style="left:762.5px;top:733px;letter-spacing:0.1px">31 Jan 08:00</div>
<div class="a" style="left:860px;top:728px;width:1px;height:3px;background:#000"></div>
<div class="t tl" style="left:858.5px;top:733px;letter-spacing:0.1px">4 Feb 08:00</div>
<div class="a" style="left:956px;top:728px;width:1px;height:3px;background:#000"></div>
<div class="t tl" style="left:954.5px;top:733px;letter-spacing:0.1px">6 Feb 08:00</div>
<div class="a" style="left:1052px;top:728px;width:1px;height:3px;background:#000"></div>
<div class="t tl" style="left:1050.5px;top:733px;letter-spacing:0.1px">8 Feb 08:00</div>
<div class="a" style="left:1148px;top:728px;width:1px;height:3px;background:#000"></div>
<div class="t tl" style="left:1146.5px;top:733px;letter-spacing:0.1px">12 Feb 08:00</div>
<div class="a" style="left:1244px;top:728px;width:1px;height:3px;background:#000"></div>
<div class="t tl" style="left:1242.5px;top:733px;letter-spacing:0.1px">14 Feb 08:00</div>
<div class="a" style="left:1623px;top:72px;width:2px;height:1px;background:#000"></div>
<div class="ax" style="top:67px">1324.90</div>
<div class="a" style="left:1623px;top:170px;width:2px;height:1px;background:#000"></div>
<div class="ax" style="top:165px">1314.30</div>
<div class="a" style="left:1623px;top:219px;width:2px;height:1px;background:#000"></div>
<div class="ax" style="top:214px">1309.00</div>
<div class="a" style="left:1623px;top:268px;width:2px;height:1px;background:#000"></div>
<div class="ax" style="top:263px">1303.80</div>
<div class="a" style="left:1623px;top:317px;width:2px;height:1px;background:#000"></div>
<div class="ax" style="top:312px">1298.50</div>
<div class="a" style="left:1623px;top:366px;width:2px;height:1px;background:#000"></div>
<div class="ax" style="top:361px">1293.20</div>
<div class="a" style="left:1623px;top:415px;width:2px;height:1px;background:#000"></div>
<div class="ax" style="top:410px">1287.90</div>
<div class="a" style="left:1623px;top:464px;width:2px;height:1px;background:#000"></div>
<div class="ax" style="top:459px">1282.70</div>
<div class="a" style="left:1623px;top:513px;width:2px;height:1px;background:#000"></div>
<div class="ax" style="top:508px">1277.40</div>
<div class="pl" style="top:116px;background:#FF0000"><span>1319.51</span></div>
<div class="pl" style="top:179px;background:#000"><span>1312.60</span></div>
<div class="pl" style="top:290px;background:#32CD32"><span>1300.79</span></div>
<div class="pl" style="top:426px;background:#0000FF"><span>1286.15</span></div>
<div class="pl" style="top:514px;background:#0000FF"><span>1276.61</span></div>
<div class="ax" style="top:538px;left:1626px">7.998</div>
<div class="ax" style="top:572px;left:1626px">0.00</div>
<div class="ax" style="top:583px;left:1626px">-3.572</div>
<div class="ax" style="top:602px;left:1626px">100</div>
<div class="ax" style="top:633px;left:1626px">70</div>
<div class="ax" style="top:683px;left:1626px">30</div>
<div class="ax" style="top:714px;left:1626px">0</div>
<div class="a" style="left:1623px;top:535px;width:2px;height:1px;background:#000"></div>
<div class="a" style="left:1623px;top:577px;width:2px;height:1px;background:#000"></div>
<div class="a" style="left:1623px;top:595px;width:2px;height:1px;background:#000"></div>
<div class="a" style="left:1623px;top:599px;width:2px;height:1px;background:#000"></div>
<div class="a" id="cn" style="left:1174.5px;top:343px;font-size:53px;line-height:74px;color:#FF2010;"><span style="letter-spacing:-3.3px">多空转折点</span><span style="letter-spacing:-1px;margin-left:4px;position:relative;top:-3.4px;display:inline-block;transform:scaleY(1.035);transform-origin:50% 72%">1300</span></div>
<div class="a" style="left:0;top:58px;width:282px;height:76px;">
<div class="a" style="left:0;top:0;width:67px;height:27px;background:linear-gradient(#FA5252,#E23A3A);border-top:1px solid #C41414;border-right:1px solid #C41414;box-sizing:border-box"></div>
<div class="a" style="left:214px;top:0;width:68px;height:27px;background:linear-gradient(#FA5252,#E23A3A);border-top:1px solid #C41414;border-right:1px solid #C41414;border-left:1px solid #C41414;box-sizing:border-box"></div>
<div class="a" style="left:0;top:27px;width:140px;height:49px;background:linear-gradient(#E03232,#CC1C1C 50%,#B00404);border-right:1px solid #B00000;box-sizing:border-box"></div>
<div class="a" style="left:142px;top:27px;width:140px;height:49px;background:linear-gradient(#E03232,#CC1C1C 50%,#B00404);border-left:1px solid #B00000;border-right:1px solid #B00000;box-sizing:border-box"></div>
<div class="a" style="left:66px;top:27px;width:74px;height:1px;background:#B40000"></div>
<div class="a" style="left:142px;top:27px;width:73px;height:1px;background:#B40000"></div>
<div class="a" style="left:3px;top:26px;width:61px;height:1px;background:#B40000"></div>
<div class="a" style="left:3px;top:27px;width:61px;height:1px;background:#F8A0A0"></div>
<div class="a" style="left:218px;top:26px;width:60px;height:1px;background:#B40000"></div>
<div class="a" style="left:218px;top:27px;width:60px;height:1px;background:#F8A0A0"></div>
<div class="a" style="left:67px;top:0;width:147px;height:27px;background:#fff"></div>
<div class="a" style="left:69px;top:0;width:143px;height:25px;background:#fff;border:1px solid #ABADB3;box-sizing:border-box;"></div>
<div class="a" style="left:70px;top:1px;width:23px;height:23px;background:linear-gradient(#F2F2F2 0,#EAEAEA 33%,#D8D8D8 37%,#CDCDCD 100%);border:1px solid #E4E4E4;box-sizing:border-box;"></div>
<div class="a" style="left:93px;top:1px;width:1px;height:23px;background:#ABADB3"></div>
<div class="a" style="left:188px;top:1px;width:1px;height:23px;background:#ABADB3"></div>
<div class="a" style="left:189px;top:1px;width:22px;height:23px;background:linear-gradient(#F2F2F2 0,#EAEAEA 33%,#D8D8D8 37%,#CDCDCD 100%);border:1px solid #E4E4E4;box-sizing:border-box;"></div>
<svg class="a" style="left:0;top:0" width="282" height="27"><path d="M77.5 11 h8 l-4 4.3z" fill="#4C60B8"/><path d="M196 14.3 h8 l-4 -4.3z" fill="#4C60B8"/></svg>
<div class="a" id="vol" style="left:94px;top:5px;width:90px;text-align:right;font-size:15px;line-height:16px;letter-spacing:0.5px;color:#000">1.00</div>
<div class="a" id="sell" style="left:15px;top:6px;font-size:15px;line-height:16px;letter-spacing:-0.9px;color:#fff">SELL</div>
<div class="a" id="buy" style="left:233px;top:6px;font-size:15px;line-height:16px;letter-spacing:-0.9px;color:#fff">BUY</div>
<div class="a" id="s1" style="left:28px;top:52px;font-size:15px;line-height:16px;font-weight:bold;letter-spacing:0.8px;color:#fff">1312</div>
<div class="a" id="s2" style="left:69.5px;top:29px;font-size:42px;line-height:44px;letter-spacing:-3px;color:#fff">59</div>
<div class="a" id="b1" style="left:170px;top:52px;font-size:15px;line-height:16px;font-weight:bold;letter-spacing:0.8px;color:#fff">1312</div>
<div class="a" id="b2" style="left:211.5px;top:29px;font-size:42px;line-height:44px;letter-spacing:-3px;color:#fff">99</div>
</div>
<div class="a" style="left:0;top:751px;width:1681px;height:1px;background:#DCDCDC"></div>
<div class="a" style="left:0;top:753px;width:135px;height:1px;background:#000"></div>
<div class="a" style="left:253px;top:753px;width:1428px;height:1px;background:#000"></div>
</body></html>
